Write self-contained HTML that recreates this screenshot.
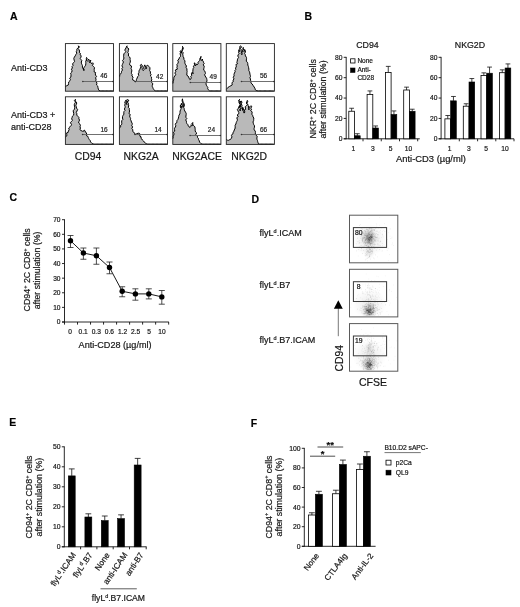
<!DOCTYPE html>
<html><head><meta charset="utf-8"><title>Figure</title>
<style>
html,body{margin:0;padding:0;background:#fff;}
body{width:520px;height:607px;overflow:hidden;}
svg{display:block;font-family:"Liberation Sans", Arial, sans-serif;}
text{stroke:#222;stroke-width:.2px;}
</style></head><body>
<svg width="520" height="607" viewBox="0 0 520 607">
<rect x="0" y="0" width="520" height="607" fill="#fff"/>
<text x="10.10" y="20.00" font-size="10.5" font-weight="bold" fill="#000">A</text>
<text x="304.60" y="19.60" font-size="10.5" font-weight="bold" fill="#000">B</text>
<text x="9.60" y="201.40" font-size="10.5" font-weight="bold" fill="#000">C</text>
<text x="251.60" y="202.50" font-size="10.5" font-weight="bold" fill="#000">D</text>
<text x="9.20" y="425.80" font-size="10.5" font-weight="bold" fill="#000">E</text>
<text x="250.80" y="426.80" font-size="10.5" font-weight="bold" fill="#000">F</text>
<text x="11.00" y="70.80" font-size="9" fill="#111">Anti-CD3</text>
<text x="11.00" y="118.00" font-size="9" fill="#111">Anti-CD3 +</text>
<text x="11.00" y="129.60" font-size="9" fill="#111">anti-CD28</text>
<path d="M65.40,91.20 L65.40,86.54 L65.49,86.54 L66.76,85.69 L68.35,84.95 L68.55,83.42 L68.75,81.89 L69.93,80.72 L70.49,79.60 L69.63,78.16 L70.80,77.17 L70.99,75.96 L70.99,74.59 L70.65,73.14 L71.80,72.00 L72.05,70.67 L71.41,69.17 L72.45,68.00 L72.00,66.54 L73.11,65.38 L72.57,63.90 L73.49,62.71 L74.54,61.55 L74.16,60.10 L73.79,58.50 L74.33,57.14 L75.22,55.87 L75.82,54.52 L76.79,53.26 L76.28,51.63 L76.78,50.63 L76.79,49.45 L77.34,48.46 L78.75,47.49 L78.39,45.82 L79.47,46.92 L78.04,48.39 L78.92,49.52 L79.60,51.04 L79.45,52.69 L80.49,53.51 L80.19,54.81 L81.16,55.86 L80.99,57.12 L80.20,58.49 L81.04,59.57 L81.88,60.65 L81.30,61.98 L81.40,63.19 L81.88,64.33 L82.45,65.68 L82.43,67.17 L82.84,68.56 L84.15,69.22 L83.89,70.67 L83.31,69.09 L83.88,67.74 L84.74,66.44 L85.60,65.25 L85.80,63.80 L85.80,62.51 L85.73,61.22 L86.41,60.01 L86.30,58.71 L86.54,57.45 L87.21,58.60 L86.53,60.05 L87.38,61.15 L88.27,60.27 L88.44,59.04 L89.35,60.11 L89.15,61.55 L89.71,62.74 L90.29,61.44 L90.77,60.10 L90.32,61.50 L90.89,62.67 L91.62,63.80 L92.67,62.74 L93.37,63.88 L92.30,65.42 L93.52,66.44 L94.52,67.72 L94.17,69.23 L94.26,70.67 L94.12,71.89 L95.63,72.57 L95.32,73.85 L95.52,75.17 L96.60,76.36 L95.54,77.86 L96.06,79.13 L95.82,80.65 L96.48,81.98 L96.90,83.37 L96.53,84.96 L97.75,86.15 L97.96,87.60 L98.34,89.13 L99.02,90.56 L100.61,90.90 L101.84,90.90 L103.07,90.90 L104.31,90.90 L105.72,90.90 L107.13,90.90 L108.54,90.90 L109.81,90.90 L111.08,90.90 L112.35,90.90 L113.62,90.90 L113.50,91.20 Z" fill="#b9b9b9" stroke="none"/>
<path d="M65.40,86.54 L65.49,86.54 L66.76,85.69 L68.35,84.95 L68.55,83.42 L68.75,81.89 L69.93,80.72 L70.49,79.60 L69.63,78.16 L70.80,77.17 L70.99,75.96 L70.99,74.59 L70.65,73.14 L71.80,72.00 L72.05,70.67 L71.41,69.17 L72.45,68.00 L72.00,66.54 L73.11,65.38 L72.57,63.90 L73.49,62.71 L74.54,61.55 L74.16,60.10 L73.79,58.50 L74.33,57.14 L75.22,55.87 L75.82,54.52 L76.79,53.26 L76.28,51.63 L76.78,50.63 L76.79,49.45 L77.34,48.46 L78.75,47.49 L78.39,45.82 L79.47,46.92 L78.04,48.39 L78.92,49.52 L79.60,51.04 L79.45,52.69 L80.49,53.51 L80.19,54.81 L81.16,55.86 L80.99,57.12 L80.20,58.49 L81.04,59.57 L81.88,60.65 L81.30,61.98 L81.40,63.19 L81.88,64.33 L82.45,65.68 L82.43,67.17 L82.84,68.56 L84.15,69.22 L83.89,70.67 L83.31,69.09 L83.88,67.74 L84.74,66.44 L85.60,65.25 L85.80,63.80 L85.80,62.51 L85.73,61.22 L86.41,60.01 L86.30,58.71 L86.54,57.45 L87.21,58.60 L86.53,60.05 L87.38,61.15 L88.27,60.27 L88.44,59.04 L89.35,60.11 L89.15,61.55 L89.71,62.74 L90.29,61.44 L90.77,60.10 L90.32,61.50 L90.89,62.67 L91.62,63.80 L92.67,62.74 L93.37,63.88 L92.30,65.42 L93.52,66.44 L94.52,67.72 L94.17,69.23 L94.26,70.67 L94.12,71.89 L95.63,72.57 L95.32,73.85 L95.52,75.17 L96.60,76.36 L95.54,77.86 L96.06,79.13 L95.82,80.65 L96.48,81.98 L96.90,83.37 L96.53,84.96 L97.75,86.15 L97.96,87.60 L98.34,89.13 L99.02,90.56 L100.61,90.90 L101.84,90.90 L103.07,90.90 L104.31,90.90 L105.72,90.90 L107.13,90.90 L108.54,90.90 L109.81,90.90 L111.08,90.90 L112.35,90.90 L113.62,90.90" fill="none" stroke="#000" stroke-width="1.0" stroke-linejoin="round"/>
<line x1="82.84" y1="81.50" x2="113.50" y2="81.50" stroke="#606060" stroke-width="0.9"/>
<circle cx="82.84" cy="81.50" r="0.8" fill="#333"/>
<circle cx="112.90" cy="81.50" r="0.7" fill="#333"/>
<text x="103.78" y="78.29" font-size="6.5" text-anchor="middle" fill="#222">46</text>
<rect x="65.40" y="43.60" width="48.10" height="47.60" fill="none" stroke="#222" stroke-width="0.9"/>
<path d="M119.40,91.20 L119.40,76.49 L119.70,76.49 L119.70,74.84 L120.76,73.85 L121.42,72.60 L121.58,71.26 L122.52,70.07 L121.82,68.56 L122.71,67.36 L121.92,65.83 L122.39,64.55 L122.88,63.27 L123.47,62.01 L122.47,60.44 L123.59,59.29 L123.93,57.98 L123.55,56.53 L123.71,55.19 L123.86,53.84 L124.99,52.69 L125.78,51.62 L124.80,50.15 L125.29,49.01 L126.05,47.93 L126.38,46.78 L127.11,45.82 L126.77,47.12 L127.85,47.93 L128.85,48.98 L128.29,50.24 L128.26,51.44 L127.76,52.70 L128.69,53.75 L128.36,54.97 L128.55,56.05 L129.54,56.92 L130.16,58.18 L130.08,59.54 L130.37,60.85 L130.28,62.21 L129.66,63.57 L129.67,64.86 L131.42,65.94 L131.51,67.21 L131.02,68.56 L131.69,69.73 L131.83,70.97 L131.47,72.26 L131.41,73.51 L132.20,74.67 L131.87,75.96 L133.12,77.10 L132.59,78.61 L132.71,79.98 L133.98,80.51 L135.25,81.78 L136.31,80.72 L136.48,79.32 L137.15,78.08 L137.64,76.70 L138.74,75.48 L138.21,73.85 L138.93,72.72 L138.95,71.39 L139.27,70.14 L140.01,69.19 L140.33,68.03 L141.02,66.89 L140.17,65.32 L141.38,64.33 L142.44,65.91 L141.87,67.24 L142.31,68.39 L142.34,69.61 L143.29,70.67 L144.12,69.37 L143.57,67.82 L144.03,66.44 L144.77,64.86 L145.32,66.22 L146.24,67.48 L145.83,69.09 L146.37,68.10 L145.55,66.75 L146.67,65.91 L147.73,65.17 L148.79,66.44 L149.92,67.68 L149.92,69.15 L149.63,70.67 L150.49,71.90 L150.32,73.27 L151.08,74.52 L150.38,75.96 L151.57,77.13 L151.49,78.50 L151.80,79.80 L151.22,81.25 L151.84,82.59 L152.85,83.84 L152.28,85.48 L152.31,86.62 L152.83,87.62 L153.23,88.65 L153.92,89.61 L154.61,90.56 L155.66,90.90 L156.72,90.90 L158.08,90.90 L159.44,90.90 L160.81,90.90 L162.17,90.90 L163.53,90.90 L164.89,90.90 L166.25,90.90 L167.62,90.90 L167.50,91.20 Z" fill="#b9b9b9" stroke="none"/>
<path d="M119.40,76.49 L119.70,76.49 L119.70,74.84 L120.76,73.85 L121.42,72.60 L121.58,71.26 L122.52,70.07 L121.82,68.56 L122.71,67.36 L121.92,65.83 L122.39,64.55 L122.88,63.27 L123.47,62.01 L122.47,60.44 L123.59,59.29 L123.93,57.98 L123.55,56.53 L123.71,55.19 L123.86,53.84 L124.99,52.69 L125.78,51.62 L124.80,50.15 L125.29,49.01 L126.05,47.93 L126.38,46.78 L127.11,45.82 L126.77,47.12 L127.85,47.93 L128.85,48.98 L128.29,50.24 L128.26,51.44 L127.76,52.70 L128.69,53.75 L128.36,54.97 L128.55,56.05 L129.54,56.92 L130.16,58.18 L130.08,59.54 L130.37,60.85 L130.28,62.21 L129.66,63.57 L129.67,64.86 L131.42,65.94 L131.51,67.21 L131.02,68.56 L131.69,69.73 L131.83,70.97 L131.47,72.26 L131.41,73.51 L132.20,74.67 L131.87,75.96 L133.12,77.10 L132.59,78.61 L132.71,79.98 L133.98,80.51 L135.25,81.78 L136.31,80.72 L136.48,79.32 L137.15,78.08 L137.64,76.70 L138.74,75.48 L138.21,73.85 L138.93,72.72 L138.95,71.39 L139.27,70.14 L140.01,69.19 L140.33,68.03 L141.02,66.89 L140.17,65.32 L141.38,64.33 L142.44,65.91 L141.87,67.24 L142.31,68.39 L142.34,69.61 L143.29,70.67 L144.12,69.37 L143.57,67.82 L144.03,66.44 L144.77,64.86 L145.32,66.22 L146.24,67.48 L145.83,69.09 L146.37,68.10 L145.55,66.75 L146.67,65.91 L147.73,65.17 L148.79,66.44 L149.92,67.68 L149.92,69.15 L149.63,70.67 L150.49,71.90 L150.32,73.27 L151.08,74.52 L150.38,75.96 L151.57,77.13 L151.49,78.50 L151.80,79.80 L151.22,81.25 L151.84,82.59 L152.85,83.84 L152.28,85.48 L152.31,86.62 L152.83,87.62 L153.23,88.65 L153.92,89.61 L154.61,90.56 L155.66,90.90 L156.72,90.90 L158.08,90.90 L159.44,90.90 L160.81,90.90 L162.17,90.90 L163.53,90.90 L164.89,90.90 L166.25,90.90 L167.62,90.90" fill="none" stroke="#000" stroke-width="1.0" stroke-linejoin="round"/>
<line x1="135.25" y1="81.50" x2="167.50" y2="81.50" stroke="#606060" stroke-width="0.9"/>
<circle cx="135.25" cy="81.50" r="0.8" fill="#333"/>
<circle cx="166.90" cy="81.50" r="0.7" fill="#333"/>
<text x="159.68" y="78.50" font-size="6.5" text-anchor="middle" fill="#222">42</text>
<rect x="119.40" y="43.60" width="48.10" height="47.60" fill="none" stroke="#222" stroke-width="0.9"/>
<path d="M172.80,91.20 L172.80,83.37 L172.96,83.37 L173.10,82.12 L173.10,81.07 L173.70,80.19 L173.75,78.71 L173.95,77.26 L174.76,75.96 L175.75,74.71 L174.81,72.98 L175.82,71.73 L175.24,70.09 L177.40,69.13 L176.88,67.50 L177.28,66.10 L176.89,64.51 L177.93,63.27 L178.37,61.88 L177.72,60.22 L178.99,59.04 L179.31,57.73 L180.46,56.58 L180.50,55.21 L180.05,53.75 L180.68,52.78 L180.08,51.53 L180.79,50.58 L181.37,51.84 L181.42,53.22 L180.98,51.74 L182.38,50.55 L182.12,49.11 L182.82,47.81 L182.48,46.35 L182.97,47.58 L183.33,48.82 L182.31,50.23 L182.11,51.54 L183.22,52.69 L182.71,54.11 L182.99,55.42 L183.15,56.75 L183.96,57.98 L183.77,59.49 L185.06,60.69 L184.81,62.21 L185.04,63.54 L185.62,64.80 L186.52,65.99 L185.87,67.50 L187.06,68.64 L186.83,70.06 L187.13,71.37 L186.92,72.79 L186.91,73.97 L186.76,75.19 L187.98,75.96 L188.60,76.97 L189.04,78.08 L189.88,79.66 L190.98,78.80 L191.33,77.77 L190.62,76.49 L191.87,75.41 L191.37,73.85 L192.21,72.26 L193.06,73.85 L192.94,72.55 L192.80,71.24 L192.96,69.98 L193.05,68.70 L193.80,67.50 L193.40,66.22 L194.41,65.16 L195.14,64.05 L194.54,62.74 L194.16,63.97 L195.14,64.85 L195.38,65.91 L196.09,64.97 L196.23,63.80 L197.08,64.86 L198.12,63.74 L198.03,62.21 L199.09,61.15 L200.14,60.10 L199.62,58.68 L201.02,57.70 L200.99,56.39 L200.43,57.95 L200.93,59.31 L201.73,60.62 L202.58,59.04 L202.38,60.23 L203.18,61.14 L203.42,62.21 L204.22,63.46 L203.17,64.92 L204.23,66.14 L204.06,67.50 L203.75,68.87 L203.70,70.18 L204.90,71.20 L205.28,72.34 L205.44,73.50 L204.53,74.82 L205.14,75.92 L205.75,77.02 L206.59,78.25 L206.86,79.56 L207.00,80.89 L206.49,82.31 L205.94,83.86 L206.38,85.23 L207.23,86.54 L207.85,87.51 L207.69,88.74 L208.29,89.71 L209.66,90.90 L210.90,90.90 L212.13,90.90 L213.37,90.90 L214.60,90.90 L215.83,90.90 L217.07,90.90 L218.30,90.90 L219.54,90.90 L220.77,90.90 L220.90,91.20 Z" fill="#b9b9b9" stroke="none"/>
<path d="M172.80,83.37 L172.96,83.37 L173.10,82.12 L173.10,81.07 L173.70,80.19 L173.75,78.71 L173.95,77.26 L174.76,75.96 L175.75,74.71 L174.81,72.98 L175.82,71.73 L175.24,70.09 L177.40,69.13 L176.88,67.50 L177.28,66.10 L176.89,64.51 L177.93,63.27 L178.37,61.88 L177.72,60.22 L178.99,59.04 L179.31,57.73 L180.46,56.58 L180.50,55.21 L180.05,53.75 L180.68,52.78 L180.08,51.53 L180.79,50.58 L181.37,51.84 L181.42,53.22 L180.98,51.74 L182.38,50.55 L182.12,49.11 L182.82,47.81 L182.48,46.35 L182.97,47.58 L183.33,48.82 L182.31,50.23 L182.11,51.54 L183.22,52.69 L182.71,54.11 L182.99,55.42 L183.15,56.75 L183.96,57.98 L183.77,59.49 L185.06,60.69 L184.81,62.21 L185.04,63.54 L185.62,64.80 L186.52,65.99 L185.87,67.50 L187.06,68.64 L186.83,70.06 L187.13,71.37 L186.92,72.79 L186.91,73.97 L186.76,75.19 L187.98,75.96 L188.60,76.97 L189.04,78.08 L189.88,79.66 L190.98,78.80 L191.33,77.77 L190.62,76.49 L191.87,75.41 L191.37,73.85 L192.21,72.26 L193.06,73.85 L192.94,72.55 L192.80,71.24 L192.96,69.98 L193.05,68.70 L193.80,67.50 L193.40,66.22 L194.41,65.16 L195.14,64.05 L194.54,62.74 L194.16,63.97 L195.14,64.85 L195.38,65.91 L196.09,64.97 L196.23,63.80 L197.08,64.86 L198.12,63.74 L198.03,62.21 L199.09,61.15 L200.14,60.10 L199.62,58.68 L201.02,57.70 L200.99,56.39 L200.43,57.95 L200.93,59.31 L201.73,60.62 L202.58,59.04 L202.38,60.23 L203.18,61.14 L203.42,62.21 L204.22,63.46 L203.17,64.92 L204.23,66.14 L204.06,67.50 L203.75,68.87 L203.70,70.18 L204.90,71.20 L205.28,72.34 L205.44,73.50 L204.53,74.82 L205.14,75.92 L205.75,77.02 L206.59,78.25 L206.86,79.56 L207.00,80.89 L206.49,82.31 L205.94,83.86 L206.38,85.23 L207.23,86.54 L207.85,87.51 L207.69,88.74 L208.29,89.71 L209.66,90.90 L210.90,90.90 L212.13,90.90 L213.37,90.90 L214.60,90.90 L215.83,90.90 L217.07,90.90 L218.30,90.90 L219.54,90.90 L220.77,90.90" fill="none" stroke="#000" stroke-width="1.0" stroke-linejoin="round"/>
<line x1="190.31" y1="82.50" x2="220.90" y2="82.50" stroke="#606060" stroke-width="0.9"/>
<circle cx="190.31" cy="82.50" r="0.8" fill="#333"/>
<circle cx="220.30" cy="82.50" r="0.7" fill="#333"/>
<text x="213.15" y="78.82" font-size="6.5" text-anchor="middle" fill="#222">49</text>
<rect x="172.80" y="43.60" width="48.10" height="47.60" fill="none" stroke="#222" stroke-width="0.9"/>
<path d="M226.30,91.20 L226.30,89.18 L226.49,89.18 L227.14,88.40 L227.76,87.60 L229.35,86.54 L230.93,85.69 L232.25,84.89 L231.99,83.37 L232.22,82.27 L233.40,81.49 L233.05,80.19 L234.03,78.94 L233.19,77.23 L234.11,75.96 L233.98,74.43 L234.41,73.04 L235.16,71.73 L234.92,70.43 L235.86,69.39 L235.49,68.06 L236.22,66.97 L236.27,65.78 L235.92,64.51 L237.66,63.63 L236.78,62.26 L237.28,61.15 L237.37,59.87 L237.78,58.64 L238.59,57.45 L237.80,56.06 L238.12,54.81 L239.14,53.75 L238.50,52.43 L238.74,51.25 L238.87,50.05 L239.71,51.63 L239.91,50.48 L239.05,49.19 L240.04,48.13 L239.68,46.90 L240.45,45.82 L241.67,46.86 L240.36,48.40 L241.19,49.52 L242.00,50.76 L241.56,52.16 L241.22,53.54 L241.83,54.81 L242.18,53.60 L241.98,52.27 L242.57,51.11 L242.85,49.88 L243.17,48.66 L243.31,47.40 L242.96,48.90 L244.51,50.11 L243.94,51.63 L244.43,50.62 L244.68,49.52 L245.33,50.73 L245.42,52.01 L244.59,53.39 L245.26,54.60 L245.42,55.87 L246.48,57.45 L246.57,58.66 L246.39,59.92 L246.30,61.17 L247.33,62.21 L247.79,63.59 L247.81,65.09 L248.38,66.44 L248.64,67.77 L248.89,69.09 L248.80,70.48 L249.44,71.73 L249.80,72.90 L249.91,74.13 L250.28,75.29 L250.50,76.49 L249.84,77.83 L250.53,78.94 L250.39,80.19 L251.35,81.25 L250.86,82.81 L252.09,83.89 L253.14,85.48 L254.20,87.07 L254.91,88.32 L255.26,89.71 L256.85,90.77 L258.43,90.90 L260.02,90.90 L261.27,90.90 L262.52,90.90 L263.77,90.90 L265.02,90.90 L266.27,90.90 L267.52,90.90 L268.77,90.90 L270.02,90.90 L271.27,90.90 L272.52,90.90 L273.77,90.90 L274.40,91.20 Z" fill="#b9b9b9" stroke="none"/>
<path d="M226.30,89.18 L226.49,89.18 L227.14,88.40 L227.76,87.60 L229.35,86.54 L230.93,85.69 L232.25,84.89 L231.99,83.37 L232.22,82.27 L233.40,81.49 L233.05,80.19 L234.03,78.94 L233.19,77.23 L234.11,75.96 L233.98,74.43 L234.41,73.04 L235.16,71.73 L234.92,70.43 L235.86,69.39 L235.49,68.06 L236.22,66.97 L236.27,65.78 L235.92,64.51 L237.66,63.63 L236.78,62.26 L237.28,61.15 L237.37,59.87 L237.78,58.64 L238.59,57.45 L237.80,56.06 L238.12,54.81 L239.14,53.75 L238.50,52.43 L238.74,51.25 L238.87,50.05 L239.71,51.63 L239.91,50.48 L239.05,49.19 L240.04,48.13 L239.68,46.90 L240.45,45.82 L241.67,46.86 L240.36,48.40 L241.19,49.52 L242.00,50.76 L241.56,52.16 L241.22,53.54 L241.83,54.81 L242.18,53.60 L241.98,52.27 L242.57,51.11 L242.85,49.88 L243.17,48.66 L243.31,47.40 L242.96,48.90 L244.51,50.11 L243.94,51.63 L244.43,50.62 L244.68,49.52 L245.33,50.73 L245.42,52.01 L244.59,53.39 L245.26,54.60 L245.42,55.87 L246.48,57.45 L246.57,58.66 L246.39,59.92 L246.30,61.17 L247.33,62.21 L247.79,63.59 L247.81,65.09 L248.38,66.44 L248.64,67.77 L248.89,69.09 L248.80,70.48 L249.44,71.73 L249.80,72.90 L249.91,74.13 L250.28,75.29 L250.50,76.49 L249.84,77.83 L250.53,78.94 L250.39,80.19 L251.35,81.25 L250.86,82.81 L252.09,83.89 L253.14,85.48 L254.20,87.07 L254.91,88.32 L255.26,89.71 L256.85,90.77 L258.43,90.90 L260.02,90.90 L261.27,90.90 L262.52,90.90 L263.77,90.90 L265.02,90.90 L266.27,90.90 L267.52,90.90 L268.77,90.90 L270.02,90.90 L271.27,90.90 L272.52,90.90 L273.77,90.90" fill="none" stroke="#000" stroke-width="1.0" stroke-linejoin="round"/>
<line x1="241.51" y1="81.50" x2="274.40" y2="81.50" stroke="#606060" stroke-width="0.9"/>
<circle cx="241.51" cy="81.50" r="0.8" fill="#333"/>
<circle cx="273.80" cy="81.50" r="0.7" fill="#333"/>
<text x="263.51" y="78.29" font-size="6.5" text-anchor="middle" fill="#222">56</text>
<rect x="226.30" y="43.60" width="48.10" height="47.60" fill="none" stroke="#222" stroke-width="0.9"/>
<path d="M65.40,144.40 L65.40,136.89 L65.49,136.89 L66.84,135.92 L66.76,134.25 L66.67,132.88 L68.20,132.33 L68.35,131.08 L69.18,129.78 L68.74,128.01 L69.93,126.85 L71.02,125.72 L71.53,124.44 L70.42,122.74 L71.31,121.56 L72.46,120.41 L71.64,118.87 L72.08,117.59 L72.37,116.27 L73.67,115.10 L73.72,113.61 L73.42,112.04 L73.13,110.77 L74.00,109.88 L74.48,108.87 L74.65,107.51 L74.43,106.11 L74.28,104.73 L74.66,103.39 L75.60,102.11 L74.34,100.61 L75.43,99.35 L75.47,100.59 L75.83,101.80 L76.81,102.94 L76.33,104.24 L75.89,105.54 L76.28,106.75 L76.50,108.16 L77.63,109.42 L77.02,110.98 L76.27,112.46 L76.87,113.72 L76.72,115.10 L77.87,116.27 L78.90,117.44 L78.85,118.82 L79.56,120.05 L78.92,121.56 L78.64,122.99 L79.90,124.11 L80.44,125.38 L79.98,126.85 L80.48,128.04 L79.89,129.54 L81.04,130.55 L82.62,131.29 L83.82,131.15 L84.21,130.02 L85.17,130.86 L85.27,132.13 L86.51,132.83 L86.54,134.25 L86.52,135.76 L87.91,136.37 L88.24,137.48 L88.68,138.54 L89.29,139.54 L90.21,140.54 L90.56,141.87 L91.35,142.71 L92.14,143.56 L93.20,143.93 L94.26,144.10 L95.55,144.10 L96.84,144.10 L98.13,144.10 L99.42,144.10 L100.71,144.10 L102.00,144.10 L103.29,144.10 L104.58,144.10 L105.87,144.10 L107.16,144.10 L108.45,144.10 L109.74,144.10 L111.03,144.10 L112.33,144.10 L113.62,144.10 L113.50,144.40 Z" fill="#b9b9b9" stroke="none"/>
<path d="M65.40,136.89 L65.49,136.89 L66.84,135.92 L66.76,134.25 L66.67,132.88 L68.20,132.33 L68.35,131.08 L69.18,129.78 L68.74,128.01 L69.93,126.85 L71.02,125.72 L71.53,124.44 L70.42,122.74 L71.31,121.56 L72.46,120.41 L71.64,118.87 L72.08,117.59 L72.37,116.27 L73.67,115.10 L73.72,113.61 L73.42,112.04 L73.13,110.77 L74.00,109.88 L74.48,108.87 L74.65,107.51 L74.43,106.11 L74.28,104.73 L74.66,103.39 L75.60,102.11 L74.34,100.61 L75.43,99.35 L75.47,100.59 L75.83,101.80 L76.81,102.94 L76.33,104.24 L75.89,105.54 L76.28,106.75 L76.50,108.16 L77.63,109.42 L77.02,110.98 L76.27,112.46 L76.87,113.72 L76.72,115.10 L77.87,116.27 L78.90,117.44 L78.85,118.82 L79.56,120.05 L78.92,121.56 L78.64,122.99 L79.90,124.11 L80.44,125.38 L79.98,126.85 L80.48,128.04 L79.89,129.54 L81.04,130.55 L82.62,131.29 L83.82,131.15 L84.21,130.02 L85.17,130.86 L85.27,132.13 L86.51,132.83 L86.54,134.25 L86.52,135.76 L87.91,136.37 L88.24,137.48 L88.68,138.54 L89.29,139.54 L90.21,140.54 L90.56,141.87 L91.35,142.71 L92.14,143.56 L93.20,143.93 L94.26,144.10 L95.55,144.10 L96.84,144.10 L98.13,144.10 L99.42,144.10 L100.71,144.10 L102.00,144.10 L103.29,144.10 L104.58,144.10 L105.87,144.10 L107.16,144.10 L108.45,144.10 L109.74,144.10 L111.03,144.10 L112.33,144.10 L113.62,144.10" fill="none" stroke="#000" stroke-width="1.0" stroke-linejoin="round"/>
<line x1="82.62" y1="134.50" x2="113.50" y2="134.50" stroke="#606060" stroke-width="0.9"/>
<circle cx="82.62" cy="134.50" r="0.8" fill="#333"/>
<circle cx="112.90" cy="134.50" r="0.7" fill="#333"/>
<text x="104.10" y="131.50" font-size="6.5" text-anchor="middle" fill="#222">16</text>
<rect x="65.40" y="96.80" width="48.10" height="47.60" fill="none" stroke="#222" stroke-width="0.9"/>
<path d="M119.40,144.40 L119.40,127.90 L119.70,127.90 L120.76,126.85 L120.41,125.55 L121.52,124.75 L121.82,123.67 L121.66,122.14 L121.76,120.66 L122.88,119.44 L122.48,117.99 L122.52,116.62 L123.08,115.36 L123.93,114.15 L123.77,112.82 L123.97,111.55 L125.08,110.43 L124.36,109.01 L124.99,107.81 L125.17,106.49 L124.70,105.08 L125.22,103.80 L124.74,102.39 L125.38,101.13 L126.05,99.88 L127.21,100.90 L126.01,102.34 L126.58,103.46 L126.89,104.63 L126.46,103.23 L127.21,101.98 L128.31,100.79 L127.63,99.35 L128.62,100.54 L127.43,102.09 L128.40,103.29 L128.48,104.63 L128.70,105.90 L128.24,107.28 L129.33,108.41 L129.31,109.71 L129.54,110.98 L129.34,112.27 L128.94,113.59 L130.38,114.64 L129.59,116.01 L130.01,117.21 L130.60,118.38 L130.50,119.66 L131.14,120.83 L131.43,122.04 L132.18,123.19 L132.21,124.45 L131.65,125.79 L132.76,126.94 L131.71,128.53 L132.93,129.66 L132.71,131.08 L133.77,132.66 L134.98,133.37 L135.04,134.78 L136.62,133.72 L138.21,133.19 L139.59,133.40 L139.80,134.78 L139.91,136.21 L141.17,136.89 L140.91,138.23 L141.89,139.06 L142.44,140.07 L143.37,140.85 L144.03,141.87 L144.82,142.55 L145.62,143.24 L146.67,143.77 L147.73,144.10 L149.06,144.10 L150.38,144.10 L151.71,144.10 L153.03,144.10 L154.36,144.10 L155.68,144.10 L157.01,144.10 L158.34,144.10 L159.66,144.10 L160.99,144.10 L162.31,144.10 L163.64,144.10 L164.96,144.10 L166.29,144.10 L167.62,144.10 L167.50,144.40 Z" fill="#b9b9b9" stroke="none"/>
<path d="M119.40,127.90 L119.70,127.90 L120.76,126.85 L120.41,125.55 L121.52,124.75 L121.82,123.67 L121.66,122.14 L121.76,120.66 L122.88,119.44 L122.48,117.99 L122.52,116.62 L123.08,115.36 L123.93,114.15 L123.77,112.82 L123.97,111.55 L125.08,110.43 L124.36,109.01 L124.99,107.81 L125.17,106.49 L124.70,105.08 L125.22,103.80 L124.74,102.39 L125.38,101.13 L126.05,99.88 L127.21,100.90 L126.01,102.34 L126.58,103.46 L126.89,104.63 L126.46,103.23 L127.21,101.98 L128.31,100.79 L127.63,99.35 L128.62,100.54 L127.43,102.09 L128.40,103.29 L128.48,104.63 L128.70,105.90 L128.24,107.28 L129.33,108.41 L129.31,109.71 L129.54,110.98 L129.34,112.27 L128.94,113.59 L130.38,114.64 L129.59,116.01 L130.01,117.21 L130.60,118.38 L130.50,119.66 L131.14,120.83 L131.43,122.04 L132.18,123.19 L132.21,124.45 L131.65,125.79 L132.76,126.94 L131.71,128.53 L132.93,129.66 L132.71,131.08 L133.77,132.66 L134.98,133.37 L135.04,134.78 L136.62,133.72 L138.21,133.19 L139.59,133.40 L139.80,134.78 L139.91,136.21 L141.17,136.89 L140.91,138.23 L141.89,139.06 L142.44,140.07 L143.37,140.85 L144.03,141.87 L144.82,142.55 L145.62,143.24 L146.67,143.77 L147.73,144.10 L149.06,144.10 L150.38,144.10 L151.71,144.10 L153.03,144.10 L154.36,144.10 L155.68,144.10 L157.01,144.10 L158.34,144.10 L159.66,144.10 L160.99,144.10 L162.31,144.10 L163.64,144.10 L164.96,144.10 L166.29,144.10 L167.62,144.10" fill="none" stroke="#000" stroke-width="1.0" stroke-linejoin="round"/>
<line x1="135.04" y1="134.50" x2="167.50" y2="134.50" stroke="#606060" stroke-width="0.9"/>
<circle cx="135.04" cy="134.50" r="0.8" fill="#333"/>
<circle cx="166.90" cy="134.50" r="0.7" fill="#333"/>
<text x="158.10" y="131.50" font-size="6.5" text-anchor="middle" fill="#222">14</text>
<rect x="119.40" y="96.80" width="48.10" height="47.60" fill="none" stroke="#222" stroke-width="0.9"/>
<path d="M172.80,144.40 L172.80,138.48 L172.96,138.48 L173.21,137.42 L173.10,136.23 L173.70,135.31 L174.06,133.90 L173.45,132.25 L174.76,131.08 L174.56,129.66 L174.48,128.27 L175.36,127.07 L175.82,125.79 L175.30,124.44 L175.62,123.37 L176.88,122.62 L176.86,121.43 L177.07,120.33 L177.93,119.44 L178.45,118.07 L178.69,116.64 L178.99,115.21 L179.83,113.92 L180.00,112.47 L180.05,110.98 L180.65,109.77 L181.14,108.54 L180.34,107.14 L180.38,105.86 L180.89,104.63 L180.20,105.91 L182.07,106.59 L181.63,107.81 L182.20,106.57 L182.16,105.27 L181.09,103.87 L182.79,102.73 L183.02,101.46 L182.61,100.13 L182.48,98.82 L182.14,100.18 L182.11,101.52 L183.57,102.72 L182.93,104.11 L183.09,105.43 L183.22,106.75 L184.15,105.86 L184.37,104.79 L184.07,103.58 L183.54,104.88 L184.15,106.06 L183.66,107.36 L184.20,108.55 L184.30,109.79 L184.81,110.98 L185.55,112.16 L186.16,113.37 L186.17,114.67 L185.93,116.01 L185.87,117.33 L186.86,118.47 L185.63,119.98 L186.38,121.15 L186.46,122.45 L186.92,123.67 L187.98,124.73 L188.28,125.90 L189.04,126.85 L190.10,127.38 L190.96,126.19 L191.15,124.73 L192.21,125.79 L192.47,124.73 L191.82,123.42 L193.06,122.62 L192.72,123.81 L193.07,124.84 L193.80,125.79 L194.86,126.85 L195.06,128.17 L195.21,129.50 L195.18,130.86 L195.70,132.13 L196.79,133.00 L195.73,134.36 L196.44,135.31 L197.41,136.14 L197.50,137.42 L198.33,138.33 L198.56,139.54 L199.26,140.79 L199.62,142.18 L200.41,142.98 L201.20,143.77 L202.26,144.03 L203.32,144.10 L204.66,144.10 L206.00,144.10 L207.34,144.10 L208.69,144.10 L210.03,144.10 L211.37,144.10 L212.71,144.10 L214.06,144.10 L215.40,144.10 L216.74,144.10 L218.08,144.10 L219.43,144.10 L220.77,144.10 L220.90,144.40 Z" fill="#b9b9b9" stroke="none"/>
<path d="M172.80,138.48 L172.96,138.48 L173.21,137.42 L173.10,136.23 L173.70,135.31 L174.06,133.90 L173.45,132.25 L174.76,131.08 L174.56,129.66 L174.48,128.27 L175.36,127.07 L175.82,125.79 L175.30,124.44 L175.62,123.37 L176.88,122.62 L176.86,121.43 L177.07,120.33 L177.93,119.44 L178.45,118.07 L178.69,116.64 L178.99,115.21 L179.83,113.92 L180.00,112.47 L180.05,110.98 L180.65,109.77 L181.14,108.54 L180.34,107.14 L180.38,105.86 L180.89,104.63 L180.20,105.91 L182.07,106.59 L181.63,107.81 L182.20,106.57 L182.16,105.27 L181.09,103.87 L182.79,102.73 L183.02,101.46 L182.61,100.13 L182.48,98.82 L182.14,100.18 L182.11,101.52 L183.57,102.72 L182.93,104.11 L183.09,105.43 L183.22,106.75 L184.15,105.86 L184.37,104.79 L184.07,103.58 L183.54,104.88 L184.15,106.06 L183.66,107.36 L184.20,108.55 L184.30,109.79 L184.81,110.98 L185.55,112.16 L186.16,113.37 L186.17,114.67 L185.93,116.01 L185.87,117.33 L186.86,118.47 L185.63,119.98 L186.38,121.15 L186.46,122.45 L186.92,123.67 L187.98,124.73 L188.28,125.90 L189.04,126.85 L190.10,127.38 L190.96,126.19 L191.15,124.73 L192.21,125.79 L192.47,124.73 L191.82,123.42 L193.06,122.62 L192.72,123.81 L193.07,124.84 L193.80,125.79 L194.86,126.85 L195.06,128.17 L195.21,129.50 L195.18,130.86 L195.70,132.13 L196.79,133.00 L195.73,134.36 L196.44,135.31 L197.41,136.14 L197.50,137.42 L198.33,138.33 L198.56,139.54 L199.26,140.79 L199.62,142.18 L200.41,142.98 L201.20,143.77 L202.26,144.03 L203.32,144.10 L204.66,144.10 L206.00,144.10 L207.34,144.10 L208.69,144.10 L210.03,144.10 L211.37,144.10 L212.71,144.10 L214.06,144.10 L215.40,144.10 L216.74,144.10 L218.08,144.10 L219.43,144.10 L220.77,144.10" fill="none" stroke="#000" stroke-width="1.0" stroke-linejoin="round"/>
<line x1="190.10" y1="135.50" x2="220.90" y2="135.50" stroke="#606060" stroke-width="0.9"/>
<circle cx="190.10" cy="135.50" r="0.8" fill="#333"/>
<circle cx="220.30" cy="135.50" r="0.7" fill="#333"/>
<text x="211.46" y="131.82" font-size="6.5" text-anchor="middle" fill="#222">24</text>
<rect x="172.80" y="96.80" width="48.10" height="47.60" fill="none" stroke="#222" stroke-width="0.9"/>
<path d="M226.30,144.40 L226.30,139.54 L226.49,139.54 L227.31,140.14 L228.29,140.38 L229.29,139.82 L230.40,139.54 L231.31,138.29 L231.99,136.89 L231.42,135.53 L231.86,134.50 L233.05,133.72 L232.96,132.36 L234.08,131.35 L234.11,130.02 L234.82,129.08 L235.14,128.01 L235.16,126.85 L235.11,125.33 L235.90,124.03 L236.22,122.62 L236.69,121.53 L237.28,120.50 L237.32,119.13 L236.73,117.72 L238.38,116.48 L237.10,115.01 L238.76,113.77 L238.78,112.41 L238.02,110.98 L237.36,109.38 L238.50,108.14 L238.87,106.75 L239.63,105.58 L240.04,104.38 L239.13,103.04 L238.90,101.77 L238.90,100.52 L239.61,99.35 L238.79,100.69 L240.32,101.90 L239.65,103.23 L240.60,104.48 L239.91,105.81 L239.12,107.15 L240.83,108.36 L239.53,109.72 L240.24,110.98 L240.35,109.73 L241.20,108.53 L240.92,107.24 L240.07,105.92 L241.50,104.76 L240.77,103.44 L239.94,102.12 L240.98,100.93 L242.13,101.95 L241.34,103.26 L241.59,104.41 L242.05,105.53 L241.83,106.75 L242.78,107.84 L242.63,109.16 L242.57,110.45 L242.58,109.03 L243.31,107.81 L242.85,109.24 L244.71,110.29 L243.45,111.85 L244.15,113.10 L245.03,111.94 L243.83,110.43 L245.63,109.43 L245.42,108.09 L245.21,106.75 L246.27,105.69 L247.32,104.53 L246.39,102.97 L246.81,101.68 L247.33,100.40 L247.75,101.69 L246.76,103.21 L247.79,104.40 L248.17,105.69 L248.69,107.05 L248.81,108.49 L248.91,109.92 L248.84,108.72 L248.76,107.52 L249.97,106.75 L251.03,105.69 L251.93,106.83 L250.57,108.17 L251.77,109.28 L250.58,110.60 L252.06,111.69 L252.13,112.90 L251.77,114.15 L252.83,115.74 L253.02,116.93 L253.86,118.01 L253.71,119.27 L253.67,120.50 L252.98,121.97 L253.34,123.27 L253.69,124.56 L254.52,125.79 L254.45,127.15 L254.07,128.55 L254.20,129.88 L255.26,131.08 L255.41,132.50 L255.32,133.97 L256.00,135.31 L257.28,136.36 L256.85,137.95 L256.95,139.23 L257.45,140.41 L257.69,141.65 L258.06,142.71 L258.43,143.77 L259.49,144.10 L260.79,144.10 L262.09,144.10 L263.38,144.10 L264.68,144.10 L265.98,144.10 L267.28,144.10 L268.58,144.10 L269.88,144.10 L271.17,144.10 L272.47,144.10 L273.77,144.10 L274.40,144.40 Z" fill="#b9b9b9" stroke="none"/>
<path d="M226.30,139.54 L226.49,139.54 L227.31,140.14 L228.29,140.38 L229.29,139.82 L230.40,139.54 L231.31,138.29 L231.99,136.89 L231.42,135.53 L231.86,134.50 L233.05,133.72 L232.96,132.36 L234.08,131.35 L234.11,130.02 L234.82,129.08 L235.14,128.01 L235.16,126.85 L235.11,125.33 L235.90,124.03 L236.22,122.62 L236.69,121.53 L237.28,120.50 L237.32,119.13 L236.73,117.72 L238.38,116.48 L237.10,115.01 L238.76,113.77 L238.78,112.41 L238.02,110.98 L237.36,109.38 L238.50,108.14 L238.87,106.75 L239.63,105.58 L240.04,104.38 L239.13,103.04 L238.90,101.77 L238.90,100.52 L239.61,99.35 L238.79,100.69 L240.32,101.90 L239.65,103.23 L240.60,104.48 L239.91,105.81 L239.12,107.15 L240.83,108.36 L239.53,109.72 L240.24,110.98 L240.35,109.73 L241.20,108.53 L240.92,107.24 L240.07,105.92 L241.50,104.76 L240.77,103.44 L239.94,102.12 L240.98,100.93 L242.13,101.95 L241.34,103.26 L241.59,104.41 L242.05,105.53 L241.83,106.75 L242.78,107.84 L242.63,109.16 L242.57,110.45 L242.58,109.03 L243.31,107.81 L242.85,109.24 L244.71,110.29 L243.45,111.85 L244.15,113.10 L245.03,111.94 L243.83,110.43 L245.63,109.43 L245.42,108.09 L245.21,106.75 L246.27,105.69 L247.32,104.53 L246.39,102.97 L246.81,101.68 L247.33,100.40 L247.75,101.69 L246.76,103.21 L247.79,104.40 L248.17,105.69 L248.69,107.05 L248.81,108.49 L248.91,109.92 L248.84,108.72 L248.76,107.52 L249.97,106.75 L251.03,105.69 L251.93,106.83 L250.57,108.17 L251.77,109.28 L250.58,110.60 L252.06,111.69 L252.13,112.90 L251.77,114.15 L252.83,115.74 L253.02,116.93 L253.86,118.01 L253.71,119.27 L253.67,120.50 L252.98,121.97 L253.34,123.27 L253.69,124.56 L254.52,125.79 L254.45,127.15 L254.07,128.55 L254.20,129.88 L255.26,131.08 L255.41,132.50 L255.32,133.97 L256.00,135.31 L257.28,136.36 L256.85,137.95 L256.95,139.23 L257.45,140.41 L257.69,141.65 L258.06,142.71 L258.43,143.77 L259.49,144.10 L260.79,144.10 L262.09,144.10 L263.38,144.10 L264.68,144.10 L265.98,144.10 L267.28,144.10 L268.58,144.10 L269.88,144.10 L271.17,144.10 L272.47,144.10 L273.77,144.10" fill="none" stroke="#000" stroke-width="1.0" stroke-linejoin="round"/>
<line x1="241.51" y1="134.50" x2="274.40" y2="134.50" stroke="#606060" stroke-width="0.9"/>
<circle cx="241.51" cy="134.50" r="0.8" fill="#333"/>
<circle cx="273.80" cy="134.50" r="0.7" fill="#333"/>
<text x="263.51" y="131.50" font-size="6.5" text-anchor="middle" fill="#222">66</text>
<rect x="226.30" y="96.80" width="48.10" height="47.60" fill="none" stroke="#222" stroke-width="0.9"/>
<text x="74.80" y="159.90" font-size="10.4" fill="#111">CD94</text>
<text x="123.50" y="159.90" font-size="10.4" fill="#111">NKG2A</text>
<text x="172.20" y="159.90" font-size="10.4" fill="#111">NKG2ACE</text>
<text x="231.30" y="159.90" font-size="10.4" fill="#111">NKG2D</text>
<line x1="346.20" y1="56.90" x2="346.20" y2="139.20" stroke="#111" stroke-width="0.9"/>
<line x1="343.70" y1="138.80" x2="419.80" y2="138.80" stroke="#111" stroke-width="0.9"/>
<line x1="343.70" y1="138.80" x2="346.20" y2="138.80" stroke="#111" stroke-width="0.9"/>
<text x="342.50" y="141.21" font-size="6.7" text-anchor="end" fill="#111">0</text>
<line x1="343.70" y1="118.43" x2="346.20" y2="118.43" stroke="#111" stroke-width="0.9"/>
<text x="342.50" y="120.84" font-size="6.7" text-anchor="end" fill="#111">20</text>
<line x1="343.70" y1="98.05" x2="346.20" y2="98.05" stroke="#111" stroke-width="0.9"/>
<text x="342.50" y="100.46" font-size="6.7" text-anchor="end" fill="#111">40</text>
<line x1="343.70" y1="77.68" x2="346.20" y2="77.68" stroke="#111" stroke-width="0.9"/>
<text x="342.50" y="80.09" font-size="6.7" text-anchor="end" fill="#111">60</text>
<line x1="343.70" y1="57.30" x2="346.20" y2="57.30" stroke="#111" stroke-width="0.9"/>
<text x="342.50" y="59.71" font-size="6.7" text-anchor="end" fill="#111">80</text>
<line x1="363.00" y1="138.80" x2="363.00" y2="141.30" stroke="#111" stroke-width="0.9"/>
<line x1="381.25" y1="138.80" x2="381.25" y2="141.30" stroke="#111" stroke-width="0.9"/>
<line x1="399.50" y1="138.80" x2="399.50" y2="141.30" stroke="#111" stroke-width="0.9"/>
<line x1="417.70" y1="138.80" x2="417.70" y2="141.30" stroke="#111" stroke-width="0.9"/>
<line x1="351.65" y1="111.25" x2="351.65" y2="108.25" stroke="#111" stroke-width="0.8"/>
<line x1="349.26" y1="108.25" x2="354.04" y2="108.25" stroke="#111" stroke-width="0.8"/>
<rect x="348.80" y="111.25" width="5.70" height="27.55" fill="#fff" stroke="#000" stroke-width="0.8"/>
<line x1="357.35" y1="135.75" x2="357.35" y2="133.71" stroke="#111" stroke-width="0.8"/>
<line x1="354.96" y1="133.71" x2="359.74" y2="133.71" stroke="#111" stroke-width="0.8"/>
<rect x="354.50" y="135.75" width="5.70" height="3.05" fill="#000" stroke="#000" stroke-width="0.6"/>
<line x1="369.95" y1="94.50" x2="369.95" y2="90.93" stroke="#111" stroke-width="0.8"/>
<line x1="367.56" y1="90.93" x2="372.34" y2="90.93" stroke="#111" stroke-width="0.8"/>
<rect x="367.10" y="94.50" width="5.70" height="44.30" fill="#fff" stroke="#000" stroke-width="0.8"/>
<line x1="375.65" y1="128.00" x2="375.65" y2="125.96" stroke="#111" stroke-width="0.8"/>
<line x1="373.26" y1="125.96" x2="378.04" y2="125.96" stroke="#111" stroke-width="0.8"/>
<rect x="372.80" y="128.00" width="5.70" height="10.80" fill="#000" stroke="#000" stroke-width="0.6"/>
<line x1="388.25" y1="72.50" x2="388.25" y2="66.39" stroke="#111" stroke-width="0.8"/>
<line x1="385.86" y1="66.39" x2="390.64" y2="66.39" stroke="#111" stroke-width="0.8"/>
<rect x="385.40" y="72.50" width="5.70" height="66.30" fill="#fff" stroke="#000" stroke-width="0.8"/>
<line x1="393.95" y1="114.50" x2="393.95" y2="110.93" stroke="#111" stroke-width="0.8"/>
<line x1="391.56" y1="110.93" x2="396.34" y2="110.93" stroke="#111" stroke-width="0.8"/>
<rect x="391.10" y="114.50" width="5.70" height="24.30" fill="#000" stroke="#000" stroke-width="0.6"/>
<line x1="406.55" y1="90.00" x2="406.55" y2="87.15" stroke="#111" stroke-width="0.8"/>
<line x1="404.16" y1="87.15" x2="408.94" y2="87.15" stroke="#111" stroke-width="0.8"/>
<rect x="403.70" y="90.00" width="5.70" height="48.80" fill="#fff" stroke="#000" stroke-width="0.8"/>
<line x1="412.25" y1="111.25" x2="412.25" y2="109.21" stroke="#111" stroke-width="0.8"/>
<line x1="409.86" y1="109.21" x2="414.64" y2="109.21" stroke="#111" stroke-width="0.8"/>
<rect x="409.40" y="111.25" width="5.70" height="27.55" fill="#000" stroke="#000" stroke-width="0.6"/>
<text x="353.30" y="150.70" font-size="6.7" text-anchor="middle" fill="#111">1</text>
<text x="372.80" y="150.70" font-size="6.7" text-anchor="middle" fill="#111">3</text>
<text x="390.60" y="150.70" font-size="6.7" text-anchor="middle" fill="#111">5</text>
<text x="408.60" y="150.70" font-size="6.7" text-anchor="middle" fill="#111">10</text>
<line x1="441.10" y1="56.90" x2="441.10" y2="139.20" stroke="#111" stroke-width="0.9"/>
<line x1="438.60" y1="138.80" x2="514.00" y2="138.80" stroke="#111" stroke-width="0.9"/>
<line x1="438.60" y1="138.80" x2="441.10" y2="138.80" stroke="#111" stroke-width="0.9"/>
<text x="437.40" y="141.21" font-size="6.7" text-anchor="end" fill="#111">0</text>
<line x1="438.60" y1="118.43" x2="441.10" y2="118.43" stroke="#111" stroke-width="0.9"/>
<text x="437.40" y="120.84" font-size="6.7" text-anchor="end" fill="#111">20</text>
<line x1="438.60" y1="98.05" x2="441.10" y2="98.05" stroke="#111" stroke-width="0.9"/>
<text x="437.40" y="100.46" font-size="6.7" text-anchor="end" fill="#111">40</text>
<line x1="438.60" y1="77.68" x2="441.10" y2="77.68" stroke="#111" stroke-width="0.9"/>
<text x="437.40" y="80.09" font-size="6.7" text-anchor="end" fill="#111">60</text>
<line x1="438.60" y1="57.30" x2="441.10" y2="57.30" stroke="#111" stroke-width="0.9"/>
<text x="437.40" y="59.71" font-size="6.7" text-anchor="end" fill="#111">80</text>
<line x1="459.30" y1="138.80" x2="459.30" y2="141.30" stroke="#111" stroke-width="0.9"/>
<line x1="477.60" y1="138.80" x2="477.60" y2="141.30" stroke="#111" stroke-width="0.9"/>
<line x1="495.80" y1="138.80" x2="495.80" y2="141.30" stroke="#111" stroke-width="0.9"/>
<line x1="514.00" y1="138.80" x2="514.00" y2="141.30" stroke="#111" stroke-width="0.9"/>
<line x1="447.75" y1="118.85" x2="447.75" y2="115.49" stroke="#111" stroke-width="0.8"/>
<line x1="445.36" y1="115.49" x2="450.14" y2="115.49" stroke="#111" stroke-width="0.8"/>
<rect x="444.90" y="118.85" width="5.70" height="19.95" fill="#fff" stroke="#000" stroke-width="0.8"/>
<line x1="453.45" y1="100.85" x2="453.45" y2="96.47" stroke="#111" stroke-width="0.8"/>
<line x1="451.06" y1="96.47" x2="455.84" y2="96.47" stroke="#111" stroke-width="0.8"/>
<rect x="450.60" y="100.85" width="5.70" height="37.95" fill="#000" stroke="#000" stroke-width="0.6"/>
<line x1="466.15" y1="106.20" x2="466.15" y2="103.75" stroke="#111" stroke-width="0.8"/>
<line x1="463.76" y1="103.75" x2="468.54" y2="103.75" stroke="#111" stroke-width="0.8"/>
<rect x="463.30" y="106.20" width="5.70" height="32.60" fill="#fff" stroke="#000" stroke-width="0.8"/>
<line x1="471.85" y1="82.00" x2="471.85" y2="78.54" stroke="#111" stroke-width="0.8"/>
<line x1="469.46" y1="78.54" x2="474.24" y2="78.54" stroke="#111" stroke-width="0.8"/>
<rect x="469.00" y="82.00" width="5.70" height="56.80" fill="#000" stroke="#000" stroke-width="0.6"/>
<line x1="483.85" y1="75.50" x2="483.85" y2="72.85" stroke="#111" stroke-width="0.8"/>
<line x1="481.46" y1="72.85" x2="486.24" y2="72.85" stroke="#111" stroke-width="0.8"/>
<rect x="481.00" y="75.50" width="5.70" height="63.30" fill="#fff" stroke="#000" stroke-width="0.8"/>
<line x1="489.55" y1="73.20" x2="489.55" y2="67.09" stroke="#111" stroke-width="0.8"/>
<line x1="487.16" y1="67.09" x2="491.94" y2="67.09" stroke="#111" stroke-width="0.8"/>
<rect x="486.70" y="73.20" width="5.70" height="65.60" fill="#000" stroke="#000" stroke-width="0.6"/>
<line x1="502.25" y1="72.70" x2="502.25" y2="69.85" stroke="#111" stroke-width="0.8"/>
<line x1="499.86" y1="69.85" x2="504.64" y2="69.85" stroke="#111" stroke-width="0.8"/>
<rect x="499.40" y="72.70" width="5.70" height="66.10" fill="#fff" stroke="#000" stroke-width="0.8"/>
<line x1="507.95" y1="68.00" x2="507.95" y2="63.92" stroke="#111" stroke-width="0.8"/>
<line x1="505.56" y1="63.92" x2="510.34" y2="63.92" stroke="#111" stroke-width="0.8"/>
<rect x="505.10" y="68.00" width="5.70" height="70.80" fill="#000" stroke="#000" stroke-width="0.6"/>
<text x="449.60" y="150.70" font-size="6.7" text-anchor="middle" fill="#111">1</text>
<text x="468.80" y="150.70" font-size="6.7" text-anchor="middle" fill="#111">3</text>
<text x="486.00" y="150.70" font-size="6.7" text-anchor="middle" fill="#111">5</text>
<text x="505.00" y="150.70" font-size="6.7" text-anchor="middle" fill="#111">10</text>
<text x="356.20" y="48.30" font-size="8.8" fill="#111">CD94</text>
<text x="454.80" y="48.20" font-size="8.8" fill="#111">NKG2D</text>
<text x="396.00" y="161.80" font-size="9.4" fill="#111">Anti-CD3 (&#181;g/ml)</text>
<rect x="350.60" y="58.80" width="4.40" height="4.20" fill="#fff" stroke="#000" stroke-width="0.8"/>
<rect x="350.60" y="68.00" width="4.40" height="4.40" fill="#000" stroke="#000" stroke-width="0.6"/>
<text x="357.40" y="63.40" font-size="6.5" fill="#111">None</text>
<text x="357.40" y="71.80" font-size="6.5" fill="#111">Anti-</text>
<text x="357.40" y="80.00" font-size="6.5" fill="#111">CD28</text>
<text transform="translate(316.20,138.60) rotate(-90)" font-size="8.9" fill="#111">NKR<tspan dy="-3.2" font-size="5.5">+</tspan><tspan dy="3.2">&#8203;</tspan> 2C CD8<tspan dy="-3.2" font-size="5.5">+</tspan><tspan dy="3.2">&#8203;</tspan> cells</text>
<text transform="translate(326.00,138.60) rotate(-90)" font-size="8.8" fill="#111">after stimulation (%)</text>
<line x1="64.50" y1="219.30" x2="64.50" y2="322.40" stroke="#111" stroke-width="0.9"/>
<line x1="62.00" y1="322.00" x2="168.90" y2="322.00" stroke="#111" stroke-width="0.9"/>
<line x1="62.00" y1="322.00" x2="64.50" y2="322.00" stroke="#111" stroke-width="0.9"/>
<text x="60.50" y="324.40" font-size="6.6" text-anchor="end" fill="#111">0</text>
<line x1="62.00" y1="307.39" x2="64.50" y2="307.39" stroke="#111" stroke-width="0.9"/>
<text x="60.50" y="309.79" font-size="6.6" text-anchor="end" fill="#111">10</text>
<line x1="62.00" y1="292.77" x2="64.50" y2="292.77" stroke="#111" stroke-width="0.9"/>
<text x="60.50" y="295.17" font-size="6.6" text-anchor="end" fill="#111">20</text>
<line x1="62.00" y1="278.16" x2="64.50" y2="278.16" stroke="#111" stroke-width="0.9"/>
<text x="60.50" y="280.56" font-size="6.6" text-anchor="end" fill="#111">30</text>
<line x1="62.00" y1="263.54" x2="64.50" y2="263.54" stroke="#111" stroke-width="0.9"/>
<text x="60.50" y="265.94" font-size="6.6" text-anchor="end" fill="#111">40</text>
<line x1="62.00" y1="248.93" x2="64.50" y2="248.93" stroke="#111" stroke-width="0.9"/>
<text x="60.50" y="251.33" font-size="6.6" text-anchor="end" fill="#111">50</text>
<line x1="62.00" y1="234.31" x2="64.50" y2="234.31" stroke="#111" stroke-width="0.9"/>
<text x="60.50" y="236.71" font-size="6.6" text-anchor="end" fill="#111">60</text>
<line x1="62.00" y1="219.70" x2="64.50" y2="219.70" stroke="#111" stroke-width="0.9"/>
<text x="60.50" y="222.10" font-size="6.6" text-anchor="end" fill="#111">70</text>
<line x1="64.50" y1="322.00" x2="64.50" y2="324.60" stroke="#111" stroke-width="0.9"/>
<line x1="77.52" y1="322.00" x2="77.52" y2="324.60" stroke="#111" stroke-width="0.9"/>
<line x1="90.54" y1="322.00" x2="90.54" y2="324.60" stroke="#111" stroke-width="0.9"/>
<line x1="103.56" y1="322.00" x2="103.56" y2="324.60" stroke="#111" stroke-width="0.9"/>
<line x1="116.58" y1="322.00" x2="116.58" y2="324.60" stroke="#111" stroke-width="0.9"/>
<line x1="129.60" y1="322.00" x2="129.60" y2="324.60" stroke="#111" stroke-width="0.9"/>
<line x1="142.62" y1="322.00" x2="142.62" y2="324.60" stroke="#111" stroke-width="0.9"/>
<line x1="155.64" y1="322.00" x2="155.64" y2="324.60" stroke="#111" stroke-width="0.9"/>
<line x1="168.66" y1="322.00" x2="168.66" y2="324.60" stroke="#111" stroke-width="0.9"/>
<polyline points="70.50,240.75 83.40,253.00 96.40,255.75 109.50,267.50 122.20,291.25 135.40,293.90 148.80,293.90 161.80,296.90" fill="none" stroke="#000" stroke-width="0.9"/>
<line x1="70.50" y1="235.50" x2="70.50" y2="247.50" stroke="#222" stroke-width="0.8"/>
<line x1="67.50" y1="235.50" x2="73.50" y2="235.50" stroke="#222" stroke-width="0.8"/>
<line x1="67.50" y1="247.50" x2="73.50" y2="247.50" stroke="#222" stroke-width="0.8"/>
<circle cx="70.50" cy="240.75" r="2.7" fill="#000"/>
<line x1="83.40" y1="248.00" x2="83.40" y2="259.25" stroke="#222" stroke-width="0.8"/>
<line x1="80.40" y1="248.00" x2="86.40" y2="248.00" stroke="#222" stroke-width="0.8"/>
<line x1="80.40" y1="259.25" x2="86.40" y2="259.25" stroke="#222" stroke-width="0.8"/>
<circle cx="83.40" cy="253.00" r="2.7" fill="#000"/>
<line x1="96.40" y1="248.00" x2="96.40" y2="264.25" stroke="#222" stroke-width="0.8"/>
<line x1="93.40" y1="248.00" x2="99.40" y2="248.00" stroke="#222" stroke-width="0.8"/>
<line x1="93.40" y1="264.25" x2="99.40" y2="264.25" stroke="#222" stroke-width="0.8"/>
<circle cx="96.40" cy="255.75" r="2.7" fill="#000"/>
<line x1="109.50" y1="262.00" x2="109.50" y2="273.75" stroke="#222" stroke-width="0.8"/>
<line x1="106.50" y1="262.00" x2="112.50" y2="262.00" stroke="#222" stroke-width="0.8"/>
<line x1="106.50" y1="273.75" x2="112.50" y2="273.75" stroke="#222" stroke-width="0.8"/>
<circle cx="109.50" cy="267.50" r="2.7" fill="#000"/>
<line x1="122.20" y1="286.75" x2="122.20" y2="296.75" stroke="#222" stroke-width="0.8"/>
<line x1="119.20" y1="286.75" x2="125.20" y2="286.75" stroke="#222" stroke-width="0.8"/>
<line x1="119.20" y1="296.75" x2="125.20" y2="296.75" stroke="#222" stroke-width="0.8"/>
<circle cx="122.20" cy="291.25" r="2.7" fill="#000"/>
<line x1="135.40" y1="288.80" x2="135.40" y2="300.20" stroke="#222" stroke-width="0.8"/>
<line x1="132.40" y1="288.80" x2="138.40" y2="288.80" stroke="#222" stroke-width="0.8"/>
<line x1="132.40" y1="300.20" x2="138.40" y2="300.20" stroke="#222" stroke-width="0.8"/>
<circle cx="135.40" cy="293.90" r="2.7" fill="#000"/>
<line x1="148.80" y1="288.80" x2="148.80" y2="298.90" stroke="#222" stroke-width="0.8"/>
<line x1="145.80" y1="288.80" x2="151.80" y2="288.80" stroke="#222" stroke-width="0.8"/>
<line x1="145.80" y1="298.90" x2="151.80" y2="298.90" stroke="#222" stroke-width="0.8"/>
<circle cx="148.80" cy="293.90" r="2.7" fill="#000"/>
<line x1="161.80" y1="290.50" x2="161.80" y2="304.20" stroke="#222" stroke-width="0.8"/>
<line x1="158.80" y1="290.50" x2="164.80" y2="290.50" stroke="#222" stroke-width="0.8"/>
<line x1="158.80" y1="304.20" x2="164.80" y2="304.20" stroke="#222" stroke-width="0.8"/>
<circle cx="161.80" cy="296.90" r="2.7" fill="#000"/>
<text x="70.20" y="333.90" font-size="6.6" text-anchor="middle" fill="#111">0</text>
<text x="83.20" y="333.90" font-size="6.6" text-anchor="middle" fill="#111">0.1</text>
<text x="96.30" y="333.90" font-size="6.6" text-anchor="middle" fill="#111">0.3</text>
<text x="109.40" y="333.90" font-size="6.6" text-anchor="middle" fill="#111">0.6</text>
<text x="122.50" y="333.90" font-size="6.6" text-anchor="middle" fill="#111">1.2</text>
<text x="135.70" y="333.90" font-size="6.6" text-anchor="middle" fill="#111">2.5</text>
<text x="149.10" y="333.90" font-size="6.6" text-anchor="middle" fill="#111">5</text>
<text x="162.00" y="333.90" font-size="6.6" text-anchor="middle" fill="#111">10</text>
<text x="78.60" y="348.00" font-size="9.1" fill="#111">Anti-CD28 (&#181;g/ml)</text>
<text transform="translate(30.40,311.40) rotate(-90)" font-size="8.85" fill="#111">CD94<tspan dy="-3.2" font-size="5.5">+</tspan><tspan dy="3.2">&#8203;</tspan> 2C CD8<tspan dy="-3.2" font-size="5.5">+</tspan><tspan dy="3.2">&#8203;</tspan> cells</text>
<text transform="translate(40.10,309.30) rotate(-90)" font-size="8.75" fill="#111">after stimulation (%)</text>
<text x="259.60" y="235.60" font-size="9" fill="#111">flyL<tspan dy="-3.0" font-size="5.5">d</tspan><tspan dy="3.0">&#8203;</tspan>.ICAM</text>
<text x="259.60" y="287.60" font-size="9" fill="#111">flyL<tspan dy="-3.0" font-size="5.5">d</tspan><tspan dy="3.0">&#8203;</tspan>.B7</text>
<text x="259.60" y="342.50" font-size="9" fill="#111">flyL<tspan dy="-3.0" font-size="5.5">d</tspan><tspan dy="3.0">&#8203;</tspan>.B7.ICAM</text>
<defs><radialGradient id="rg"><stop offset="0" stop-color="#000" stop-opacity="1"/><stop offset="0.45" stop-color="#000" stop-opacity="0.45"/><stop offset="1" stop-color="#000" stop-opacity="0"/></radialGradient>
<clipPath id="cb0"><rect x="350.0" y="215.7" width="47.3" height="46.6"/></clipPath>
<clipPath id="cb1"><rect x="350.0" y="269.8" width="47.3" height="46.6"/></clipPath>
<clipPath id="cb2"><rect x="350.0" y="324.1" width="47.3" height="46.6"/></clipPath>
</defs>
<ellipse cx="368.8" cy="237.3" rx="8.5" ry="10.0" fill="url(#rg)" opacity="0.27" clip-path="url(#cb0)"/>
<ellipse cx="369.5" cy="240.0" rx="17" ry="16" fill="url(#rg)" opacity="0.12" clip-path="url(#cb0)"/>
<ellipse cx="369.2" cy="252.5" rx="6" ry="7" fill="url(#rg)" opacity="0.1" clip-path="url(#cb0)"/>
<path d="M368.5 242.8h0.7M367.7 241.9h0.7M367.5 238.7h0.7M369.8 239.5h0.7M371.5 234.8h0.7M369.9 245.4h0.7M371.9 237.2h0.7M370.0 239.2h0.7M371.0 239.2h0.7M370.5 238.8h0.7M368.6 242.2h0.7M372.3 233.2h0.7M366.3 239.3h0.7M366.1 236.7h0.7M368.3 238.5h0.7M367.5 247.1h0.7M371.1 240.5h0.7M365.0 231.8h0.7M369.3 240.3h0.7M368.8 241.1h0.7M362.3 240.4h0.7M372.1 231.0h0.7M369.5 237.4h0.7M367.3 229.5h0.7M365.1 238.1h0.7M371.6 237.3h0.7M373.5 234.1h0.7M373.4 229.3h0.7M368.8 239.1h0.7M370.7 241.1h0.7M366.0 229.1h0.7M368.1 231.9h0.7M369.1 233.1h0.7M368.0 237.0h0.7M369.2 234.6h0.7M372.3 234.7h0.7M368.3 239.2h0.7M368.8 242.7h0.7M368.4 235.5h0.7M371.9 239.3h0.7M366.4 235.4h0.7M369.4 242.4h0.7M371.2 237.5h0.7M361.9 239.6h0.7M365.2 231.1h0.7M366.8 237.7h0.7M368.9 247.0h0.7M368.1 234.2h0.7M372.1 237.9h0.7M367.5 233.8h0.7M368.6 242.9h0.7M370.6 236.1h0.7M371.3 238.0h0.7M365.1 240.1h0.7M370.4 243.7h0.7M368.6 232.8h0.7M370.9 247.0h0.7M366.8 243.8h0.7M369.0 240.0h0.7M369.0 234.1h0.7M371.9 236.0h0.7M369.6 239.8h0.7M365.2 240.1h0.7M370.3 236.6h0.7M367.3 238.9h0.7M370.3 237.0h0.7M369.7 237.7h0.7M364.1 242.3h0.7M372.2 233.2h0.7M375.3 237.2h0.7M367.9 239.4h0.7M373.1 234.8h0.7M372.9 238.4h0.7M366.8 239.8h0.7M368.0 239.3h0.7M371.1 237.4h0.7M364.6 244.9h0.7M374.0 244.2h0.7M369.5 240.7h0.7M371.1 230.9h0.7M368.0 237.8h0.7M366.1 237.9h0.7M370.4 236.1h0.7M364.9 243.4h0.7M371.6 238.0h0.7M370.6 231.3h0.7M369.5 237.6h0.7M374.6 240.6h0.7M368.6 243.6h0.7M370.8 235.2h0.7M367.8 246.8h0.7M367.2 235.3h0.7M368.3 234.1h0.7M368.8 237.6h0.7M369.0 228.8h0.7M364.3 230.5h0.7M370.8 237.7h0.7M361.9 238.8h0.7M371.5 236.2h0.7M368.8 241.3h0.7M362.4 237.7h0.7M370.9 243.5h0.7M368.4 230.2h0.7M369.3 232.2h0.7M367.6 240.2h0.7M365.6 242.4h0.7M370.4 238.5h0.7M368.8 234.4h0.7M369.5 237.7h0.7M366.4 236.2h0.7M374.6 236.3h0.7M371.0 237.1h0.7M369.9 238.2h0.7M364.4 237.4h0.7M366.9 238.2h0.7M365.4 239.9h0.7M366.7 231.7h0.7M371.2 232.7h0.7M372.7 242.3h0.7M367.8 242.0h0.7M365.6 241.8h0.7M369.5 240.0h0.7M368.8 239.5h0.7M371.5 234.0h0.7M367.5 240.7h0.7M372.1 237.1h0.7M369.4 244.2h0.7M363.9 227.7h0.7M371.3 239.9h0.7M371.1 230.7h0.7M369.5 236.7h0.7M368.4 239.1h0.7M371.6 246.8h0.7M363.2 232.9h0.7M364.9 242.8h0.7M366.7 238.2h0.7M370.0 228.3h0.7M371.8 240.5h0.7M367.4 235.5h0.7M367.8 238.8h0.7M369.4 240.1h0.7M365.5 234.1h0.7M368.9 237.9h0.7M366.8 242.4h0.7M369.8 240.3h0.7M370.2 243.8h0.7M367.8 236.9h0.7M371.1 239.6h0.7M365.0 235.6h0.7M370.2 238.5h0.7M367.8 233.6h0.7M368.3 240.5h0.7M371.1 236.3h0.7M366.4 235.8h0.7M364.0 241.1h0.7M371.5 237.2h0.7M370.3 243.1h0.7M368.9 237.7h0.7M371.2 235.0h0.7M370.0 233.8h0.7M371.1 234.5h0.7M369.1 237.9h0.7M365.0 235.6h0.7M369.8 236.4h0.7M366.9 234.8h0.7M367.2 237.2h0.7M368.1 241.8h0.7M370.0 236.5h0.7M363.7 237.7h0.7M370.6 236.8h0.7" stroke="#000" stroke-width="0.7" opacity="0.24" fill="none"/>
<path d="M379.1 249.6h0.7M375.8 237.4h0.7M381.9 243.4h0.7M359.1 247.6h0.7M360.9 230.2h0.7M374.6 248.1h0.7M370.1 245.0h0.7M375.4 228.5h0.7M370.7 242.7h0.7M363.1 243.1h0.7M366.7 240.7h0.7M369.2 248.9h0.7M370.4 237.4h0.7M359.7 234.3h0.7M380.1 241.4h0.7M375.0 244.4h0.7M361.0 235.7h0.7M366.8 244.9h0.7M363.5 235.1h0.7M365.5 232.6h0.7M367.8 239.0h0.7M363.9 233.4h0.7M369.9 249.5h0.7M370.2 231.4h0.7M371.9 245.2h0.7M371.5 240.6h0.7M366.6 239.7h0.7M362.3 241.3h0.7M377.3 240.8h0.7M377.5 243.7h0.7M370.2 230.8h0.7M375.7 241.1h0.7M358.4 249.6h0.7M376.8 248.2h0.7M378.7 238.2h0.7M370.6 234.6h0.7M375.9 237.6h0.7M381.9 234.6h0.7M374.4 248.4h0.7M371.0 237.5h0.7M363.0 247.3h0.7M375.9 250.1h0.7M367.3 250.3h0.7M373.4 244.5h0.7M372.6 236.4h0.7M368.4 246.2h0.7M368.3 240.1h0.7M370.5 242.0h0.7M377.3 234.7h0.7M371.9 236.1h0.7M369.6 235.4h0.7M360.6 236.7h0.7M361.2 248.7h0.7M361.6 235.6h0.7M371.1 236.4h0.7M377.5 238.1h0.7M360.6 245.7h0.7M367.3 258.3h0.7M364.0 235.6h0.7M369.6 231.5h0.7M373.4 248.1h0.7M379.6 242.1h0.7M368.8 247.8h0.7M376.9 237.6h0.7M366.3 233.7h0.7M370.6 238.5h0.7M373.9 245.8h0.7M362.4 241.7h0.7M371.5 236.4h0.7M370.2 247.9h0.7M369.4 238.6h0.7M367.3 240.9h0.7M366.3 242.1h0.7M362.1 234.2h0.7M371.4 247.2h0.7M365.8 239.0h0.7M373.1 236.6h0.7M370.6 240.9h0.7M361.2 228.5h0.7M370.2 232.0h0.7M368.9 239.5h0.7M364.3 231.9h0.7M363.9 246.1h0.7M355.8 243.8h0.7M368.5 233.6h0.7M370.5 237.4h0.7M363.0 237.2h0.7M369.2 240.7h0.7M369.2 237.5h0.7M355.5 233.6h0.7M371.5 241.9h0.7M363.4 233.6h0.7M362.1 229.2h0.7M371.4 243.5h0.7M368.4 240.4h0.7M377.1 231.2h0.7M368.9 237.8h0.7M374.5 229.6h0.7M359.4 240.8h0.7M364.9 239.9h0.7M372.4 241.4h0.7M374.3 239.9h0.7M369.0 228.5h0.7M374.3 230.0h0.7M368.2 246.7h0.7M359.3 243.0h0.7M364.3 237.8h0.7M359.2 225.4h0.7M371.5 251.6h0.7M373.6 239.0h0.7M369.9 249.2h0.7M378.3 234.8h0.7M363.3 250.4h0.7M366.9 242.7h0.7M376.1 233.5h0.7M365.9 229.5h0.7M375.7 237.5h0.7M374.0 230.0h0.7M373.0 233.1h0.7M367.8 230.2h0.7M367.5 242.7h0.7M367.3 236.7h0.7M371.8 236.6h0.7M371.8 239.0h0.7M374.0 235.9h0.7M369.9 239.7h0.7M377.9 241.1h0.7M362.8 231.0h0.7M368.8 236.1h0.7M364.2 235.2h0.7M373.6 227.5h0.7M370.7 237.0h0.7M378.0 227.9h0.7M371.7 237.4h0.7M369.8 241.5h0.7M380.4 241.2h0.7M372.2 230.0h0.7M372.9 230.3h0.7M368.4 241.4h0.7M377.2 244.8h0.7M370.5 244.0h0.7M367.9 239.1h0.7M368.8 243.8h0.7M367.8 232.4h0.7M362.3 253.6h0.7M357.3 238.2h0.7M367.9 237.4h0.7M363.5 242.1h0.7M369.8 232.6h0.7M366.9 230.7h0.7M371.5 251.2h0.7M378.3 245.0h0.7M369.1 238.8h0.7M372.0 249.0h0.7M369.6 238.4h0.7M362.0 238.9h0.7M370.1 234.5h0.7M363.5 238.7h0.7M371.3 234.1h0.7M373.6 236.7h0.7M371.0 248.3h0.7M366.1 238.5h0.7M367.4 236.5h0.7M371.2 228.7h0.7M370.9 229.6h0.7M365.3 243.7h0.7M359.1 246.9h0.7M379.8 245.5h0.7M373.0 239.2h0.7M367.9 252.4h0.7M363.1 238.5h0.7M372.3 235.3h0.7M361.8 240.4h0.7M369.3 227.6h0.7M365.6 233.7h0.7M367.4 241.8h0.7M373.9 230.5h0.7M368.8 234.5h0.7M359.4 242.7h0.7M366.3 236.9h0.7M356.9 241.7h0.7M369.3 242.7h0.7M366.0 248.1h0.7M370.9 235.4h0.7M371.5 242.6h0.7M365.6 245.5h0.7M371.8 243.4h0.7M375.1 254.9h0.7M368.6 235.5h0.7M371.7 237.8h0.7M356.1 250.9h0.7M371.7 228.3h0.7M365.4 240.2h0.7M367.2 236.1h0.7M370.6 244.7h0.7M374.9 239.9h0.7M371.4 228.8h0.7M360.5 238.5h0.7M365.8 239.3h0.7M364.1 234.5h0.7" stroke="#000" stroke-width="0.7" opacity="0.16" fill="none"/>
<path d="M369.0 242.2h0.7M365.9 254.5h0.7M369.4 247.3h0.7M370.0 259.1h0.7M373.2 246.7h0.7M367.6 243.6h0.7M367.6 246.2h0.7M366.9 253.1h0.7M368.5 250.5h0.7M364.8 255.8h0.7M368.4 245.8h0.7M369.4 256.7h0.7M365.4 253.7h0.7M365.6 255.6h0.7M371.1 250.8h0.7M366.5 245.6h0.7M366.7 255.4h0.7M370.2 251.8h0.7M367.7 251.3h0.7M370.8 241.5h0.7M368.0 251.7h0.7M366.1 249.5h0.7M368.7 246.7h0.7M365.8 245.5h0.7M366.3 251.4h0.7M371.4 251.0h0.7M368.2 247.9h0.7M369.5 249.7h0.7M372.2 251.6h0.7M371.7 253.3h0.7M369.0 252.4h0.7M366.7 254.3h0.7M368.5 248.0h0.7M369.2 255.2h0.7M369.0 241.3h0.7M367.3 251.5h0.7M370.4 247.7h0.7M369.8 254.3h0.7M370.3 243.9h0.7M367.2 248.2h0.7M367.4 250.8h0.7M372.1 251.1h0.7M365.8 245.6h0.7M370.8 247.4h0.7M368.4 257.5h0.7M373.4 258.0h0.7M365.8 258.9h0.7M369.1 256.3h0.7M369.3 256.7h0.7M369.5 252.3h0.7M369.0 248.4h0.7M369.5 255.8h0.7M366.3 252.6h0.7M366.5 247.0h0.7M364.9 259.9h0.7M370.0 250.8h0.7M372.5 243.4h0.7M369.8 249.6h0.7M371.5 246.4h0.7M369.9 252.1h0.7" stroke="#000" stroke-width="0.7" opacity="0.16" fill="none"/>
<path d="M389.7 236.2h0.7M373.0 246.1h0.7M378.5 247.3h0.7M374.8 231.0h0.7M387.9 260.5h0.7M374.9 234.6h0.7M385.7 231.5h0.7M376.5 225.0h0.7M389.6 229.0h0.7M377.2 234.8h0.7M367.8 228.3h0.7M372.3 229.2h0.7M384.3 231.6h0.7M372.2 249.0h0.7M382.0 250.8h0.7M385.6 245.4h0.7M381.6 251.1h0.7M358.1 241.2h0.7M373.9 240.0h0.7M380.3 230.6h0.7M356.6 234.8h0.7M379.3 232.0h0.7M388.2 248.1h0.7M371.1 239.0h0.7M359.0 230.4h0.7M382.8 236.9h0.7M387.3 239.5h0.7M391.7 244.7h0.7M365.3 233.9h0.7M380.4 233.0h0.7M358.5 243.1h0.7M374.1 233.5h0.7M361.5 245.6h0.7M351.8 234.1h0.7M367.0 260.9h0.7M361.3 248.4h0.7M371.1 254.0h0.7M390.3 238.5h0.7M375.8 231.5h0.7M368.9 249.5h0.7M358.4 232.9h0.7M373.7 237.9h0.7M368.7 218.4h0.7M369.3 240.0h0.7M372.6 242.2h0.7M359.4 230.8h0.7M379.4 217.6h0.7M360.3 231.2h0.7M360.0 228.9h0.7M358.1 231.5h0.7M377.2 256.9h0.7M353.4 245.9h0.7M379.1 245.1h0.7M393.2 245.4h0.7M388.0 232.7h0.7M357.8 256.0h0.7M376.5 227.2h0.7M372.5 250.3h0.7M363.7 245.5h0.7M357.4 247.7h0.7M376.7 239.5h0.7M369.9 239.7h0.7M389.1 254.6h0.7M371.1 241.6h0.7M360.8 250.6h0.7M360.8 242.7h0.7M386.8 250.5h0.7M374.6 247.1h0.7M374.2 241.1h0.7M370.5 235.9h0.7M378.0 240.0h0.7M377.3 236.8h0.7M392.0 243.0h0.7M373.9 258.9h0.7M374.5 244.3h0.7M375.9 223.8h0.7M384.9 227.0h0.7M387.6 248.8h0.7M369.6 229.2h0.7M381.4 237.5h0.7M391.6 237.1h0.7M375.1 241.1h0.7M360.1 224.5h0.7M382.1 245.6h0.7M372.1 234.4h0.7M381.9 231.3h0.7M383.7 244.9h0.7M361.5 235.6h0.7M370.0 235.5h0.7M376.3 231.0h0.7M362.6 228.8h0.7M362.7 246.4h0.7M376.4 227.1h0.7M371.9 244.8h0.7M391.5 238.2h0.7M378.0 232.3h0.7M381.0 228.0h0.7M368.4 251.9h0.7M381.9 234.1h0.7M366.5 227.3h0.7M390.3 228.9h0.7M372.9 241.6h0.7M372.0 252.5h0.7M354.1 230.5h0.7M375.7 238.9h0.7M384.0 223.6h0.7M383.5 230.4h0.7M379.4 225.3h0.7M382.5 235.8h0.7M386.1 248.1h0.7M375.4 234.0h0.7" stroke="#000" stroke-width="0.7" opacity="0.1" fill="none"/>
<ellipse cx="369.0" cy="310.8" rx="8.0" ry="9.0" fill="url(#rg)" opacity="0.28" clip-path="url(#cb1)"/>
<ellipse cx="369.5" cy="304.0" rx="17" ry="15" fill="url(#rg)" opacity="0.1" clip-path="url(#cb1)"/>
<path d="M369.3 314.7h0.7M367.8 307.6h0.7M369.5 312.8h0.7M369.0 305.3h0.7M368.0 310.9h0.7M370.4 305.8h0.7M369.3 314.5h0.7M373.0 306.8h0.7M366.3 310.1h0.7M367.7 309.6h0.7M369.5 312.4h0.7M368.3 307.9h0.7M366.8 309.4h0.7M367.6 310.4h0.7M376.9 313.4h0.7M368.2 311.6h0.7M366.2 306.7h0.7M370.8 314.0h0.7M367.4 313.6h0.7M369.6 310.7h0.7M373.8 310.2h0.7M365.9 310.9h0.7M363.8 313.9h0.7M369.5 305.1h0.7M370.8 310.1h0.7M370.6 311.1h0.7M369.4 311.7h0.7M371.9 311.8h0.7M370.8 308.2h0.7M374.0 308.5h0.7M372.0 312.2h0.7M368.0 311.5h0.7M370.8 310.0h0.7M365.8 308.9h0.7M372.4 309.4h0.7M367.0 312.6h0.7M370.7 310.5h0.7M370.8 311.2h0.7M372.8 307.4h0.7M373.0 312.1h0.7M368.1 306.4h0.7M369.8 310.5h0.7M371.5 314.6h0.7M372.3 308.9h0.7M368.0 314.4h0.7M369.1 309.2h0.7M368.2 312.7h0.7M371.0 313.0h0.7M369.9 312.5h0.7M371.2 314.1h0.7M372.8 311.0h0.7M369.2 311.4h0.7M370.5 309.7h0.7M373.4 308.2h0.7M370.0 309.5h0.7M368.0 311.0h0.7M373.2 308.1h0.7M367.2 308.2h0.7M366.6 315.3h0.7M365.7 311.2h0.7M370.1 312.3h0.7M372.6 312.3h0.7M367.7 310.0h0.7M370.3 308.9h0.7M367.8 311.5h0.7M368.3 312.2h0.7M366.9 310.7h0.7M370.0 309.8h0.7M369.8 310.5h0.7M371.8 307.9h0.7M369.7 313.9h0.7M368.6 312.9h0.7M369.7 313.3h0.7M377.5 310.0h0.7M370.0 310.0h0.7M372.6 312.3h0.7M373.3 311.1h0.7M368.3 312.0h0.7M373.5 310.7h0.7M367.5 310.3h0.7M364.1 313.2h0.7M369.6 314.4h0.7M370.0 312.0h0.7M369.5 305.9h0.7M369.3 311.8h0.7M371.8 312.7h0.7M367.1 310.7h0.7M369.9 314.6h0.7M367.8 305.3h0.7M367.6 309.6h0.7M372.6 312.6h0.7M365.8 313.2h0.7M373.1 312.5h0.7M370.8 308.0h0.7M374.2 311.2h0.7M364.2 311.5h0.7M368.8 312.5h0.7M370.1 308.1h0.7M370.2 313.1h0.7M368.8 310.4h0.7M366.4 310.2h0.7M367.8 310.5h0.7M368.0 305.2h0.7M370.4 308.6h0.7M368.4 307.7h0.7M369.0 309.5h0.7M373.2 305.3h0.7M366.1 310.7h0.7M366.1 309.9h0.7M375.2 311.6h0.7M369.3 312.5h0.7M370.5 312.0h0.7M369.2 309.9h0.7M372.1 313.2h0.7M369.2 311.1h0.7M366.4 308.3h0.7M365.3 309.9h0.7M372.9 314.2h0.7M368.9 309.7h0.7M371.0 313.0h0.7M367.1 310.6h0.7M370.8 312.7h0.7M371.1 313.6h0.7M369.9 309.3h0.7M365.4 308.4h0.7M371.2 309.5h0.7M365.0 313.4h0.7M366.6 310.1h0.7M372.9 308.7h0.7M368.1 312.5h0.7M367.7 313.4h0.7M373.3 310.0h0.7M372.8 307.7h0.7M369.5 309.8h0.7M363.0 309.8h0.7M370.7 309.7h0.7M366.0 312.6h0.7M367.1 313.4h0.7M371.3 311.9h0.7M368.5 310.6h0.7M369.9 303.6h0.7M366.1 306.5h0.7M372.7 306.5h0.7M372.4 311.5h0.7M368.6 315.1h0.7M368.6 314.3h0.7M372.0 308.7h0.7M369.0 314.2h0.7M363.6 313.6h0.7M368.5 313.1h0.7M368.3 309.4h0.7M364.0 306.4h0.7M367.1 310.4h0.7M366.1 311.4h0.7M369.7 311.8h0.7M370.4 312.4h0.7M367.4 312.0h0.7M369.0 311.9h0.7M364.6 309.0h0.7M366.6 308.1h0.7M368.1 309.0h0.7" stroke="#000" stroke-width="0.7" opacity="0.28" fill="none"/>
<path d="M367.9 304.2h0.7M362.2 307.2h0.7M364.7 309.8h0.7M369.6 312.2h0.7M364.0 308.7h0.7M368.7 308.6h0.7M369.9 314.7h0.7M364.9 309.2h0.7M374.0 308.7h0.7M369.8 306.4h0.7M379.6 312.7h0.7M367.6 309.6h0.7M364.9 312.1h0.7M369.2 306.8h0.7M369.2 306.4h0.7M366.7 312.6h0.7M366.0 303.4h0.7M375.4 302.2h0.7M360.4 308.2h0.7M369.0 301.4h0.7M359.9 310.2h0.7M366.3 299.4h0.7M378.8 309.2h0.7M363.9 306.3h0.7M376.4 307.6h0.7M361.0 312.9h0.7M374.6 304.6h0.7M365.0 312.4h0.7M360.9 310.9h0.7M367.9 313.3h0.7M364.3 307.5h0.7M373.2 304.7h0.7M366.1 310.0h0.7M368.4 311.4h0.7M362.9 306.3h0.7M379.9 314.3h0.7M376.7 299.3h0.7M371.0 313.6h0.7M370.1 308.6h0.7M376.2 310.7h0.7M357.0 309.2h0.7M370.4 303.5h0.7M376.0 308.9h0.7M361.1 308.3h0.7M365.4 311.7h0.7M365.2 306.7h0.7M377.2 306.8h0.7M366.9 308.7h0.7M365.5 312.2h0.7M362.7 306.8h0.7M379.7 301.0h0.7M363.5 309.4h0.7M356.4 298.4h0.7M365.7 313.6h0.7M370.8 306.5h0.7M372.4 304.2h0.7M378.4 315.1h0.7M365.6 301.2h0.7M380.9 308.4h0.7M366.6 310.3h0.7M367.8 314.2h0.7M365.9 308.9h0.7M372.6 314.8h0.7M365.3 306.5h0.7M377.2 308.7h0.7M374.9 310.2h0.7M370.5 305.3h0.7M369.2 308.6h0.7M362.4 305.6h0.7M371.5 314.0h0.7M365.3 307.8h0.7M365.3 304.6h0.7M376.6 308.9h0.7M367.0 310.2h0.7M374.5 315.3h0.7M371.4 310.3h0.7M372.6 313.8h0.7M372.8 303.4h0.7M370.1 307.5h0.7M378.8 309.6h0.7M367.4 311.2h0.7M369.1 311.0h0.7M375.4 305.6h0.7M365.9 313.0h0.7M368.0 310.0h0.7M375.0 305.2h0.7M375.1 307.8h0.7M366.4 306.7h0.7M381.6 311.8h0.7M372.3 305.9h0.7M377.5 304.1h0.7M366.9 314.8h0.7M375.6 307.7h0.7M373.3 308.0h0.7M362.7 313.6h0.7M370.2 312.8h0.7M373.9 305.3h0.7M370.5 305.8h0.7M371.8 312.8h0.7M367.6 314.6h0.7M374.5 312.7h0.7M365.2 312.0h0.7M372.0 309.9h0.7M371.7 305.3h0.7M369.5 311.9h0.7M368.6 312.2h0.7M377.3 310.4h0.7M367.7 311.2h0.7M368.7 307.1h0.7M373.5 312.5h0.7M374.5 302.0h0.7M372.2 312.5h0.7M368.5 304.7h0.7M373.0 308.2h0.7M375.6 307.4h0.7M370.3 313.9h0.7M375.3 314.2h0.7M364.9 306.7h0.7M369.6 315.2h0.7" stroke="#000" stroke-width="0.7" opacity="0.16" fill="none"/>
<path d="M371.7 306.8h0.7M373.0 299.4h0.7M367.3 292.6h0.7M370.5 287.7h0.7M367.5 287.0h0.7M368.7 300.0h0.7M371.9 296.1h0.7M371.8 289.4h0.7M369.1 291.3h0.7M366.9 291.7h0.7M367.1 294.0h0.7M372.8 296.3h0.7M370.3 297.3h0.7M369.4 288.8h0.7M363.7 302.1h0.7M371.1 280.7h0.7M371.2 291.4h0.7M369.9 295.6h0.7M367.8 285.3h0.7M367.9 299.4h0.7M367.1 285.5h0.7M370.1 306.6h0.7M367.1 301.3h0.7M370.7 296.9h0.7M374.9 288.5h0.7M369.8 292.2h0.7M372.0 295.0h0.7M371.0 299.2h0.7M369.3 295.3h0.7M368.1 302.6h0.7M372.9 305.2h0.7M365.0 289.6h0.7M369.9 300.9h0.7M368.7 288.5h0.7M376.6 294.1h0.7M370.5 288.7h0.7M376.6 297.4h0.7M369.1 292.7h0.7M370.1 297.2h0.7M370.6 289.7h0.7M375.0 288.5h0.7M374.6 299.2h0.7M365.4 300.7h0.7M371.4 289.4h0.7M377.2 302.4h0.7M362.8 300.9h0.7M367.9 284.1h0.7M372.4 286.0h0.7M368.9 294.6h0.7M368.8 287.5h0.7M362.0 292.9h0.7M374.1 301.9h0.7M375.2 296.7h0.7M370.9 289.2h0.7M361.1 289.1h0.7M367.2 287.8h0.7M370.0 296.3h0.7M367.7 299.2h0.7M370.9 299.3h0.7M373.6 301.7h0.7" stroke="#000" stroke-width="0.7" opacity="0.14" fill="none"/>
<path d="M368.8 289.9h0.7M373.8 310.2h0.7M367.0 304.5h0.7M378.0 293.0h0.7M363.0 293.2h0.7M379.0 284.3h0.7M373.5 290.3h0.7M364.9 284.1h0.7M353.1 301.5h0.7M375.9 292.3h0.7M370.2 307.1h0.7M374.1 300.7h0.7M371.5 304.2h0.7M369.1 285.6h0.7M381.1 303.4h0.7M361.8 299.0h0.7M375.3 300.7h0.7M373.0 292.4h0.7M367.7 294.9h0.7M360.2 297.8h0.7M378.5 309.8h0.7M362.6 284.8h0.7M389.0 290.7h0.7M372.9 305.3h0.7M374.8 299.0h0.7M376.5 276.2h0.7M370.8 303.8h0.7M358.0 280.8h0.7M379.5 294.0h0.7M377.9 276.8h0.7M372.5 287.2h0.7M368.1 306.5h0.7M362.1 293.7h0.7M377.3 289.9h0.7M388.0 300.6h0.7M357.6 282.3h0.7M365.8 274.0h0.7M386.2 292.6h0.7M366.0 297.0h0.7M368.1 310.8h0.7M389.0 305.1h0.7M379.7 307.2h0.7M378.1 296.1h0.7M385.5 299.9h0.7M380.0 313.4h0.7M396.0 297.4h0.7M386.0 281.7h0.7M364.3 301.1h0.7M365.4 285.8h0.7M363.4 301.8h0.7M356.5 303.1h0.7M384.9 275.9h0.7M378.1 304.9h0.7M358.5 302.0h0.7M368.4 302.9h0.7M382.1 302.0h0.7M393.2 285.0h0.7M357.0 283.3h0.7M389.8 303.1h0.7M365.2 291.2h0.7M355.8 298.9h0.7M369.6 306.6h0.7M375.1 295.3h0.7M379.8 312.4h0.7M368.2 298.5h0.7M366.8 288.0h0.7M362.1 291.5h0.7M357.8 294.3h0.7M368.3 300.3h0.7M367.4 295.4h0.7M378.9 290.6h0.7M385.2 304.6h0.7M372.9 309.8h0.7M364.9 294.4h0.7M367.7 294.6h0.7M357.1 295.8h0.7M383.8 302.4h0.7M384.6 302.3h0.7M382.9 286.5h0.7M368.5 279.0h0.7M372.0 292.0h0.7M378.8 287.4h0.7M353.9 289.7h0.7M386.6 311.4h0.7M381.3 299.9h0.7M371.5 298.4h0.7M366.1 292.7h0.7M367.2 313.4h0.7M350.5 307.3h0.7M355.4 281.6h0.7M378.0 292.2h0.7M372.7 287.0h0.7M374.5 280.4h0.7M375.8 292.0h0.7M359.3 309.9h0.7M391.2 291.4h0.7M388.7 301.0h0.7M385.3 305.1h0.7M374.9 291.9h0.7M389.1 289.5h0.7M372.8 304.2h0.7M351.4 303.9h0.7M367.9 294.4h0.7M378.8 297.7h0.7M375.4 290.3h0.7M363.6 294.0h0.7M368.5 287.1h0.7M388.1 314.7h0.7" stroke="#000" stroke-width="0.7" opacity="0.09" fill="none"/>
<ellipse cx="368.8" cy="364.6" rx="8.0" ry="9.0" fill="url(#rg)" opacity="0.27" clip-path="url(#cb2)"/>
<ellipse cx="369.5" cy="356.0" rx="17" ry="16" fill="url(#rg)" opacity="0.1" clip-path="url(#cb2)"/>
<ellipse cx="369.5" cy="348.5" rx="5.5" ry="7.5" fill="url(#rg)" opacity="0.1" clip-path="url(#cb2)"/>
<path d="M365.2 363.5h0.7M370.9 357.8h0.7M371.0 364.8h0.7M370.5 367.5h0.7M371.8 360.7h0.7M370.3 365.0h0.7M370.3 360.5h0.7M366.7 366.7h0.7M371.3 369.5h0.7M365.0 368.4h0.7M368.1 363.8h0.7M368.0 366.4h0.7M371.3 362.1h0.7M370.2 365.1h0.7M367.1 367.2h0.7M366.7 363.2h0.7M368.6 364.9h0.7M366.9 363.3h0.7M371.4 365.0h0.7M369.5 364.5h0.7M371.0 368.1h0.7M368.5 367.0h0.7M366.9 364.6h0.7M366.1 363.1h0.7M376.0 362.1h0.7M371.8 365.4h0.7M369.4 358.6h0.7M369.3 360.4h0.7M367.3 362.5h0.7M372.8 359.5h0.7M367.9 362.3h0.7M369.1 359.7h0.7M365.4 364.4h0.7M367.0 367.7h0.7M368.1 365.2h0.7M367.7 366.9h0.7M371.5 364.4h0.7M367.6 366.3h0.7M369.0 367.4h0.7M369.0 364.9h0.7M370.6 362.2h0.7M365.9 365.9h0.7M368.3 366.3h0.7M370.7 365.6h0.7M367.4 369.1h0.7M363.4 362.4h0.7M368.0 364.0h0.7M370.2 368.2h0.7M371.0 364.4h0.7M369.2 361.5h0.7M369.4 363.8h0.7M363.7 365.2h0.7M368.5 366.9h0.7M370.2 364.9h0.7M368.4 369.3h0.7M369.3 367.6h0.7M369.8 368.5h0.7M371.1 361.3h0.7M370.1 369.2h0.7M372.0 363.7h0.7M372.6 367.2h0.7M370.4 362.7h0.7M369.8 366.1h0.7M364.0 363.2h0.7M365.3 359.4h0.7M369.3 367.2h0.7M368.8 360.3h0.7M365.8 367.1h0.7M368.4 365.5h0.7M368.2 365.1h0.7M367.3 362.7h0.7M365.6 364.7h0.7M368.7 367.9h0.7M374.2 365.2h0.7M362.3 361.1h0.7M371.9 366.0h0.7M368.5 362.0h0.7M370.0 365.6h0.7M371.4 368.6h0.7M372.5 367.5h0.7M366.2 366.3h0.7M366.2 362.6h0.7M367.0 361.2h0.7M366.9 368.9h0.7M368.6 369.3h0.7M369.1 359.4h0.7M367.3 369.4h0.7M371.4 364.1h0.7M368.3 368.2h0.7M370.0 364.0h0.7M371.5 364.8h0.7M366.5 360.3h0.7M369.4 369.6h0.7M369.3 365.0h0.7M369.4 365.4h0.7M365.7 364.6h0.7M367.9 365.9h0.7M370.5 369.0h0.7M370.1 363.8h0.7M372.9 365.5h0.7M365.4 364.6h0.7M366.4 369.1h0.7M366.7 365.3h0.7M369.7 363.8h0.7M368.7 363.5h0.7M367.3 362.2h0.7M369.4 363.8h0.7M366.5 363.4h0.7M373.8 361.1h0.7M367.6 363.1h0.7M368.8 366.9h0.7M367.2 365.5h0.7M370.0 369.4h0.7M367.5 362.6h0.7M370.5 364.5h0.7M367.5 363.9h0.7M372.0 360.0h0.7M368.4 369.6h0.7M369.7 362.4h0.7M367.4 367.6h0.7M369.9 363.5h0.7M367.5 360.9h0.7M365.8 365.7h0.7M370.0 363.2h0.7M370.5 362.7h0.7M369.7 358.7h0.7M370.8 364.5h0.7M370.0 364.8h0.7M369.1 364.5h0.7M370.0 363.7h0.7M368.7 363.2h0.7M370.6 368.6h0.7M370.6 366.1h0.7M372.1 362.3h0.7M373.7 358.9h0.7M370.5 365.1h0.7M369.8 360.2h0.7M371.6 365.4h0.7M369.1 367.8h0.7M369.2 365.0h0.7M370.9 364.4h0.7M369.7 363.5h0.7M367.5 364.7h0.7M367.4 365.4h0.7M368.3 363.0h0.7M368.6 361.1h0.7M370.5 366.4h0.7M363.4 364.8h0.7M367.8 366.3h0.7M373.7 363.3h0.7M368.6 362.2h0.7M369.6 366.7h0.7M369.4 365.0h0.7M366.3 364.4h0.7" stroke="#000" stroke-width="0.7" opacity="0.28" fill="none"/>
<path d="M364.5 361.5h0.7M377.8 363.5h0.7M365.5 358.4h0.7M361.4 360.9h0.7M380.5 362.0h0.7M368.3 358.5h0.7M367.0 367.3h0.7M374.8 362.2h0.7M365.2 366.0h0.7M376.9 363.2h0.7M373.2 361.5h0.7M365.3 360.2h0.7M369.6 366.0h0.7M377.3 368.8h0.7M371.9 353.4h0.7M377.5 365.1h0.7M365.8 368.8h0.7M364.8 361.8h0.7M369.6 363.0h0.7M369.1 354.2h0.7M362.0 362.6h0.7M373.4 362.9h0.7M363.2 357.6h0.7M363.1 367.9h0.7M364.1 366.4h0.7M363.1 358.6h0.7M366.0 368.7h0.7M365.6 362.1h0.7M366.1 360.7h0.7M374.6 360.2h0.7M368.2 357.6h0.7M365.6 363.5h0.7M362.8 362.0h0.7M359.5 361.6h0.7M369.6 365.8h0.7M372.1 358.5h0.7M362.9 356.5h0.7M378.1 357.4h0.7M374.6 364.2h0.7M374.4 355.8h0.7M371.7 364.8h0.7M369.4 365.1h0.7M363.2 369.4h0.7M363.4 362.3h0.7M374.1 365.4h0.7M377.9 362.9h0.7M363.4 364.6h0.7M372.2 355.8h0.7M374.3 368.5h0.7M364.9 367.0h0.7M369.8 367.3h0.7M366.5 366.7h0.7M373.1 363.3h0.7M367.7 362.3h0.7M373.2 369.4h0.7M368.7 366.9h0.7M376.0 366.5h0.7M371.7 360.7h0.7M360.8 366.7h0.7M365.5 360.1h0.7M375.1 364.3h0.7M363.6 368.3h0.7M367.8 367.4h0.7M363.4 356.4h0.7M366.1 366.6h0.7M358.4 358.1h0.7M368.1 358.8h0.7M366.9 359.5h0.7M377.7 366.3h0.7M364.5 366.8h0.7M357.6 363.2h0.7M369.5 362.0h0.7M364.3 360.2h0.7M359.2 365.0h0.7M364.0 365.6h0.7M374.0 359.9h0.7M362.8 363.3h0.7M373.1 357.0h0.7M369.1 358.4h0.7M377.4 364.7h0.7M360.5 360.4h0.7M369.7 360.8h0.7M369.8 364.8h0.7M370.4 361.1h0.7M377.2 367.0h0.7M367.7 362.4h0.7M365.8 356.6h0.7M367.6 363.2h0.7M367.3 358.6h0.7M352.6 355.0h0.7M373.9 354.7h0.7M372.4 366.2h0.7M368.8 362.9h0.7M373.8 362.7h0.7M369.0 366.9h0.7M363.2 361.2h0.7M367.8 363.7h0.7M372.9 354.6h0.7M369.2 366.0h0.7M375.9 364.8h0.7M365.1 366.6h0.7M362.1 363.4h0.7M362.8 369.0h0.7M367.7 362.5h0.7M366.7 368.1h0.7M363.4 366.1h0.7M367.4 366.2h0.7M370.7 359.4h0.7M367.0 355.1h0.7M364.3 360.3h0.7M374.9 361.1h0.7M370.8 361.9h0.7M362.2 365.6h0.7M379.8 365.7h0.7M376.1 365.6h0.7M360.2 360.0h0.7M361.2 363.1h0.7M367.3 359.6h0.7M370.1 365.0h0.7M377.4 367.4h0.7" stroke="#000" stroke-width="0.7" opacity="0.16" fill="none"/>
<path d="M373.0 346.6h0.7M368.5 344.6h0.7M373.8 343.4h0.7M370.4 350.2h0.7M369.5 346.8h0.7M371.2 344.2h0.7M370.3 356.4h0.7M368.1 355.5h0.7M373.8 359.4h0.7M367.0 358.8h0.7M373.1 357.3h0.7M373.0 347.8h0.7M372.9 349.7h0.7M368.4 345.2h0.7M368.4 347.7h0.7M364.8 350.6h0.7M365.4 352.4h0.7M374.3 355.9h0.7M375.0 357.9h0.7M377.4 348.2h0.7M367.2 347.7h0.7M366.7 356.7h0.7M362.4 348.8h0.7M372.9 352.3h0.7M372.6 342.4h0.7M368.5 347.8h0.7M371.4 352.2h0.7M374.6 341.3h0.7M370.8 362.0h0.7M374.0 350.1h0.7M372.7 347.4h0.7M374.2 345.5h0.7M372.5 350.2h0.7M367.5 349.9h0.7M369.7 344.7h0.7M370.4 343.6h0.7M373.5 351.7h0.7M373.1 352.8h0.7M370.8 340.7h0.7M369.0 348.9h0.7M368.4 348.3h0.7M368.8 346.0h0.7M367.2 345.9h0.7M366.5 354.8h0.7M370.8 351.6h0.7M372.5 346.6h0.7M373.4 338.3h0.7M368.0 348.9h0.7M375.3 355.4h0.7M372.6 353.2h0.7M368.2 347.8h0.7M367.9 349.2h0.7M366.1 346.9h0.7M368.4 351.5h0.7M368.0 350.8h0.7M371.5 351.7h0.7M372.4 343.4h0.7M370.2 347.8h0.7M373.3 346.1h0.7M370.9 341.0h0.7M368.9 344.5h0.7M369.8 345.0h0.7M369.7 350.0h0.7M366.8 353.0h0.7M368.0 360.7h0.7M373.4 352.5h0.7M370.2 356.5h0.7M370.9 339.3h0.7M372.0 350.2h0.7M362.4 338.5h0.7M374.1 350.6h0.7M367.7 338.2h0.7M366.6 357.7h0.7M362.8 351.7h0.7M377.4 349.5h0.7M367.0 351.7h0.7M371.8 350.9h0.7M369.3 339.5h0.7M371.5 353.0h0.7M371.2 351.6h0.7M370.3 353.8h0.7M380.7 345.4h0.7M370.7 341.9h0.7M364.2 348.7h0.7M374.3 343.0h0.7M368.4 345.5h0.7M365.4 340.3h0.7M370.1 345.9h0.7M369.2 343.1h0.7M374.2 361.8h0.7M367.3 339.7h0.7M373.8 356.9h0.7M376.2 343.5h0.7M369.6 337.2h0.7M371.2 340.9h0.7M364.3 352.9h0.7M371.2 336.6h0.7M367.3 363.1h0.7M362.2 345.6h0.7M376.1 359.0h0.7M370.4 344.1h0.7M371.0 344.8h0.7M370.9 354.8h0.7M370.1 355.5h0.7M373.9 343.5h0.7M369.0 342.7h0.7M371.0 338.1h0.7M366.7 335.4h0.7M371.3 343.1h0.7M373.8 353.0h0.7" stroke="#000" stroke-width="0.7" opacity="0.16" fill="none"/>
<path d="M378.6 342.4h0.7M354.1 339.3h0.7M373.3 350.0h0.7M370.8 351.1h0.7M389.9 363.9h0.7M358.7 358.3h0.7M362.5 353.6h0.7M375.5 361.0h0.7M382.3 338.3h0.7M371.7 355.6h0.7M370.5 367.9h0.7M356.5 356.8h0.7M375.1 345.8h0.7M371.6 348.1h0.7M376.4 344.7h0.7M367.5 357.0h0.7M385.7 341.4h0.7M382.4 344.2h0.7M380.7 362.5h0.7M380.5 351.0h0.7M385.4 346.9h0.7M376.3 343.2h0.7M369.7 355.1h0.7M361.4 350.1h0.7M395.9 340.9h0.7M370.6 347.2h0.7M363.7 342.6h0.7M384.0 348.3h0.7M364.0 337.8h0.7M362.6 360.4h0.7M361.3 329.5h0.7M361.6 351.1h0.7M377.1 350.4h0.7M382.2 336.6h0.7M360.8 346.8h0.7M373.2 327.8h0.7M370.4 332.8h0.7M383.4 353.1h0.7M378.2 347.1h0.7M359.6 343.5h0.7M384.5 354.2h0.7M372.7 335.2h0.7M369.1 369.3h0.7M369.2 364.3h0.7M360.1 335.0h0.7M367.8 341.4h0.7M391.4 347.0h0.7M369.5 342.7h0.7M381.3 363.2h0.7M382.8 333.6h0.7M369.2 355.9h0.7M383.3 366.3h0.7M378.0 359.4h0.7M382.5 354.0h0.7M380.5 349.3h0.7M376.4 360.2h0.7M367.7 353.0h0.7M372.2 362.0h0.7M372.1 358.4h0.7M384.0 344.5h0.7M381.9 337.6h0.7M374.9 341.6h0.7M384.7 366.1h0.7M357.9 353.6h0.7M363.4 334.9h0.7M371.2 361.3h0.7M385.8 344.3h0.7M369.0 366.1h0.7M394.7 356.3h0.7M362.8 346.8h0.7M381.8 347.8h0.7M373.2 355.2h0.7M353.8 345.5h0.7M367.6 340.8h0.7M375.1 346.0h0.7M367.0 365.8h0.7M389.7 347.8h0.7M365.6 333.3h0.7M350.5 367.1h0.7M372.5 341.0h0.7M356.0 363.4h0.7M368.5 356.7h0.7M383.2 341.2h0.7M355.3 348.8h0.7M378.2 347.6h0.7M370.7 354.4h0.7M360.9 357.7h0.7M383.6 337.9h0.7M362.2 345.7h0.7M364.4 347.1h0.7M384.9 334.9h0.7M376.6 345.6h0.7M363.5 334.8h0.7M388.9 340.2h0.7M380.5 336.6h0.7M377.6 347.0h0.7M367.7 334.5h0.7M365.7 345.3h0.7M387.9 357.1h0.7M377.3 343.2h0.7M375.0 358.6h0.7M388.0 360.2h0.7M394.3 347.9h0.7M361.2 364.2h0.7M393.6 360.2h0.7M372.5 351.8h0.7M368.5 346.6h0.7" stroke="#000" stroke-width="0.7" opacity="0.09" fill="none"/>
<rect x="349.50" y="215.20" width="48.30" height="47.60" fill="none" stroke="#5a5a5a" stroke-width="1.0"/>
<rect x="353.40" y="227.60" width="33.20" height="19.80" fill="none" stroke="#3a3a3a" stroke-width="1.0"/>
<text x="355.00" y="234.70" font-size="6.8" fill="#000">80</text>
<rect x="349.50" y="269.30" width="48.30" height="47.60" fill="none" stroke="#5a5a5a" stroke-width="1.0"/>
<rect x="353.40" y="281.70" width="33.20" height="19.80" fill="none" stroke="#3a3a3a" stroke-width="1.0"/>
<text x="356.70" y="288.80" font-size="6.8" fill="#000">8</text>
<rect x="349.50" y="323.60" width="48.30" height="47.60" fill="none" stroke="#5a5a5a" stroke-width="1.0"/>
<rect x="353.40" y="336.00" width="33.20" height="19.80" fill="none" stroke="#3a3a3a" stroke-width="1.0"/>
<text x="355.00" y="343.10" font-size="6.8" fill="#000">19</text>
<line x1="338.30" y1="308.00" x2="338.30" y2="336.20" stroke="#555" stroke-width="0.8"/>
<path d="M338.3,300.3 L342.8,308.8 L333.9,308.8 Z" fill="#000"/>
<text transform="translate(342.60,371.40) rotate(-90)" font-size="10.3" fill="#111">CD94</text>
<text x="359.00" y="385.80" font-size="10.5" fill="#111">CFSE</text>
<line x1="64.30" y1="446.40" x2="64.30" y2="547.20" stroke="#111" stroke-width="0.9"/>
<line x1="61.80" y1="546.80" x2="146.60" y2="546.80" stroke="#111" stroke-width="0.9"/>
<line x1="61.80" y1="546.80" x2="64.30" y2="546.80" stroke="#111" stroke-width="0.9"/>
<text x="60.60" y="549.25" font-size="6.8" text-anchor="end" fill="#111">0</text>
<line x1="61.80" y1="526.80" x2="64.30" y2="526.80" stroke="#111" stroke-width="0.9"/>
<text x="60.60" y="529.25" font-size="6.8" text-anchor="end" fill="#111">10</text>
<line x1="61.80" y1="506.80" x2="64.30" y2="506.80" stroke="#111" stroke-width="0.9"/>
<text x="60.60" y="509.25" font-size="6.8" text-anchor="end" fill="#111">20</text>
<line x1="61.80" y1="486.80" x2="64.30" y2="486.80" stroke="#111" stroke-width="0.9"/>
<text x="60.60" y="489.25" font-size="6.8" text-anchor="end" fill="#111">30</text>
<line x1="61.80" y1="466.80" x2="64.30" y2="466.80" stroke="#111" stroke-width="0.9"/>
<text x="60.60" y="469.25" font-size="6.8" text-anchor="end" fill="#111">40</text>
<line x1="61.80" y1="446.80" x2="64.30" y2="446.80" stroke="#111" stroke-width="0.9"/>
<text x="60.60" y="449.25" font-size="6.8" text-anchor="end" fill="#111">50</text>
<line x1="80.60" y1="546.80" x2="80.60" y2="549.30" stroke="#111" stroke-width="0.9"/>
<line x1="96.90" y1="546.80" x2="96.90" y2="549.30" stroke="#111" stroke-width="0.9"/>
<line x1="113.20" y1="546.80" x2="113.20" y2="549.30" stroke="#111" stroke-width="0.9"/>
<line x1="129.50" y1="546.80" x2="129.50" y2="549.30" stroke="#111" stroke-width="0.9"/>
<line x1="146.20" y1="546.80" x2="146.20" y2="549.30" stroke="#111" stroke-width="0.9"/>
<line x1="71.75" y1="475.90" x2="71.75" y2="468.90" stroke="#111" stroke-width="0.8"/>
<line x1="68.85" y1="468.90" x2="74.65" y2="468.90" stroke="#111" stroke-width="0.8"/>
<rect x="68.30" y="475.90" width="6.90" height="70.90" fill="#000" stroke="#000" stroke-width="0.6"/>
<line x1="88.35" y1="517.00" x2="88.35" y2="513.80" stroke="#111" stroke-width="0.8"/>
<line x1="85.45" y1="513.80" x2="91.25" y2="513.80" stroke="#111" stroke-width="0.8"/>
<rect x="84.90" y="517.00" width="6.90" height="29.80" fill="#000" stroke="#000" stroke-width="0.6"/>
<line x1="104.75" y1="520.60" x2="104.75" y2="516.00" stroke="#111" stroke-width="0.8"/>
<line x1="101.85" y1="516.00" x2="107.65" y2="516.00" stroke="#111" stroke-width="0.8"/>
<rect x="101.30" y="520.60" width="6.90" height="26.20" fill="#000" stroke="#000" stroke-width="0.6"/>
<line x1="121.05" y1="518.65" x2="121.05" y2="514.85" stroke="#111" stroke-width="0.8"/>
<line x1="118.15" y1="514.85" x2="123.95" y2="514.85" stroke="#111" stroke-width="0.8"/>
<rect x="117.60" y="518.65" width="6.90" height="28.15" fill="#000" stroke="#000" stroke-width="0.6"/>
<line x1="137.65" y1="465.00" x2="137.65" y2="458.40" stroke="#111" stroke-width="0.8"/>
<line x1="134.75" y1="458.40" x2="140.55" y2="458.40" stroke="#111" stroke-width="0.8"/>
<rect x="134.20" y="465.00" width="6.90" height="81.80" fill="#000" stroke="#000" stroke-width="0.6"/>
<text transform="translate(31.80,538.60) rotate(-90)" font-size="8.85" fill="#111">CD94<tspan dy="-3.2" font-size="5.5">+</tspan><tspan dy="3.2">&#8203;</tspan> 2C CD8<tspan dy="-3.2" font-size="5.5">+</tspan><tspan dy="3.2">&#8203;</tspan> cells</text>
<text transform="translate(42.30,536.40) rotate(-90)" font-size="8.85" fill="#111">after stimulation (%)</text>
<text transform="translate(76.30,554.90) rotate(-56)" font-size="8.2" text-anchor="end" fill="#111">flyL<tspan dy="-3.0" font-size="5.5">d</tspan><tspan dy="3.0">&#8203;</tspan>.ICAM</text>
<text transform="translate(92.80,554.90) rotate(-56)" font-size="8.2" text-anchor="end" fill="#111">flyL<tspan dy="-3.0" font-size="5.5">d</tspan><tspan dy="3.0">&#8203;</tspan>.B7</text>
<text transform="translate(110.00,554.90) rotate(-56)" font-size="8.2" text-anchor="end" fill="#111">None</text>
<text transform="translate(127.70,554.90) rotate(-56)" font-size="8.2" text-anchor="end" fill="#111">anti-ICAM</text>
<text transform="translate(143.90,554.90) rotate(-56)" font-size="8.2" text-anchor="end" fill="#111">anti-B7</text>
<line x1="100.50" y1="588.80" x2="136.80" y2="588.80" stroke="#333" stroke-width="0.8"/>
<text x="91.80" y="601.40" font-size="8.6" fill="#111">flyL<tspan dy="-3.0" font-size="5.5">d</tspan><tspan dy="3.0">&#8203;</tspan>.B7.ICAM</text>
<line x1="304.30" y1="447.90" x2="304.30" y2="546.70" stroke="#111" stroke-width="0.9"/>
<line x1="301.80" y1="546.30" x2="375.60" y2="546.30" stroke="#111" stroke-width="0.9"/>
<line x1="301.80" y1="546.30" x2="304.30" y2="546.30" stroke="#111" stroke-width="0.9"/>
<text x="300.60" y="548.75" font-size="6.8" text-anchor="end" fill="#111">0</text>
<line x1="301.80" y1="526.70" x2="304.30" y2="526.70" stroke="#111" stroke-width="0.9"/>
<text x="300.60" y="529.15" font-size="6.8" text-anchor="end" fill="#111">20</text>
<line x1="301.80" y1="507.10" x2="304.30" y2="507.10" stroke="#111" stroke-width="0.9"/>
<text x="300.60" y="509.55" font-size="6.8" text-anchor="end" fill="#111">40</text>
<line x1="301.80" y1="487.50" x2="304.30" y2="487.50" stroke="#111" stroke-width="0.9"/>
<text x="300.60" y="489.95" font-size="6.8" text-anchor="end" fill="#111">60</text>
<line x1="301.80" y1="467.90" x2="304.30" y2="467.90" stroke="#111" stroke-width="0.9"/>
<text x="300.60" y="470.35" font-size="6.8" text-anchor="end" fill="#111">80</text>
<line x1="301.80" y1="448.30" x2="304.30" y2="448.30" stroke="#111" stroke-width="0.9"/>
<text x="300.60" y="450.75" font-size="6.8" text-anchor="end" fill="#111">100</text>
<line x1="311.90" y1="515.00" x2="311.90" y2="512.75" stroke="#111" stroke-width="0.8"/>
<line x1="308.96" y1="512.75" x2="314.84" y2="512.75" stroke="#111" stroke-width="0.8"/>
<rect x="308.40" y="515.00" width="7.00" height="31.30" fill="#fff" stroke="#000" stroke-width="0.8"/>
<line x1="318.90" y1="494.25" x2="318.90" y2="491.31" stroke="#111" stroke-width="0.8"/>
<line x1="315.96" y1="491.31" x2="321.84" y2="491.31" stroke="#111" stroke-width="0.8"/>
<rect x="315.40" y="494.25" width="7.00" height="52.05" fill="#000" stroke="#000" stroke-width="0.6"/>
<line x1="335.90" y1="493.75" x2="335.90" y2="490.22" stroke="#111" stroke-width="0.8"/>
<line x1="332.96" y1="490.22" x2="338.84" y2="490.22" stroke="#111" stroke-width="0.8"/>
<rect x="332.40" y="493.75" width="7.00" height="52.55" fill="#fff" stroke="#000" stroke-width="0.8"/>
<line x1="342.90" y1="464.50" x2="342.90" y2="460.09" stroke="#111" stroke-width="0.8"/>
<line x1="339.96" y1="460.09" x2="345.84" y2="460.09" stroke="#111" stroke-width="0.8"/>
<rect x="339.40" y="464.50" width="7.00" height="81.80" fill="#000" stroke="#000" stroke-width="0.6"/>
<line x1="359.90" y1="469.50" x2="359.90" y2="464.01" stroke="#111" stroke-width="0.8"/>
<line x1="356.96" y1="464.01" x2="362.84" y2="464.01" stroke="#111" stroke-width="0.8"/>
<rect x="356.40" y="469.50" width="7.00" height="76.80" fill="#fff" stroke="#000" stroke-width="0.8"/>
<line x1="366.90" y1="456.25" x2="366.90" y2="451.74" stroke="#111" stroke-width="0.8"/>
<line x1="363.96" y1="451.74" x2="369.84" y2="451.74" stroke="#111" stroke-width="0.8"/>
<rect x="363.40" y="456.25" width="7.00" height="90.05" fill="#000" stroke="#000" stroke-width="0.6"/>
<text transform="translate(271.60,538.60) rotate(-90)" font-size="8.85" fill="#111">CD94<tspan dy="-3.2" font-size="5.5">+</tspan><tspan dy="3.2">&#8203;</tspan> 2C CD8<tspan dy="-3.2" font-size="5.5">+</tspan><tspan dy="3.2">&#8203;</tspan> cells</text>
<text transform="translate(282.30,536.40) rotate(-90)" font-size="8.85" fill="#111">after stimulation (%)</text>
<text transform="translate(319.40,555.80) rotate(-53)" font-size="8.1" text-anchor="end" fill="#111">None</text>
<text transform="translate(347.60,555.80) rotate(-53)" font-size="8.1" text-anchor="end" fill="#111">CTLA4Ig</text>
<text transform="translate(373.60,555.80) rotate(-53)" font-size="8.1" text-anchor="end" fill="#111">Anti-IL-2</text>
<line x1="317.50" y1="447.00" x2="343.20" y2="447.00" stroke="#222" stroke-width="0.8"/>
<line x1="310.00" y1="456.20" x2="335.20" y2="456.20" stroke="#222" stroke-width="0.8"/>
<text x="330.20" y="448.20" font-size="9.5" text-anchor="middle" font-weight="bold" fill="#000">**</text>
<text x="322.60" y="457.40" font-size="9.5" text-anchor="middle" font-weight="bold" fill="#000">*</text>
<text x="384.40" y="449.60" font-size="6.7" fill="#111">B10.D2 sAPC-</text>
<line x1="384.50" y1="452.60" x2="420.80" y2="452.60" stroke="#666" stroke-width="0.9"/>
<rect x="386.00" y="460.20" width="5.00" height="4.80" fill="#fff" stroke="#000" stroke-width="0.8"/>
<rect x="386.00" y="470.20" width="5.00" height="4.80" fill="#000" stroke="#000" stroke-width="0.6"/>
<text x="395.80" y="465.10" font-size="6.7" fill="#111">p2Ca</text>
<text x="395.80" y="475.10" font-size="6.7" fill="#111">QL9</text>
</svg>
</body></html>
